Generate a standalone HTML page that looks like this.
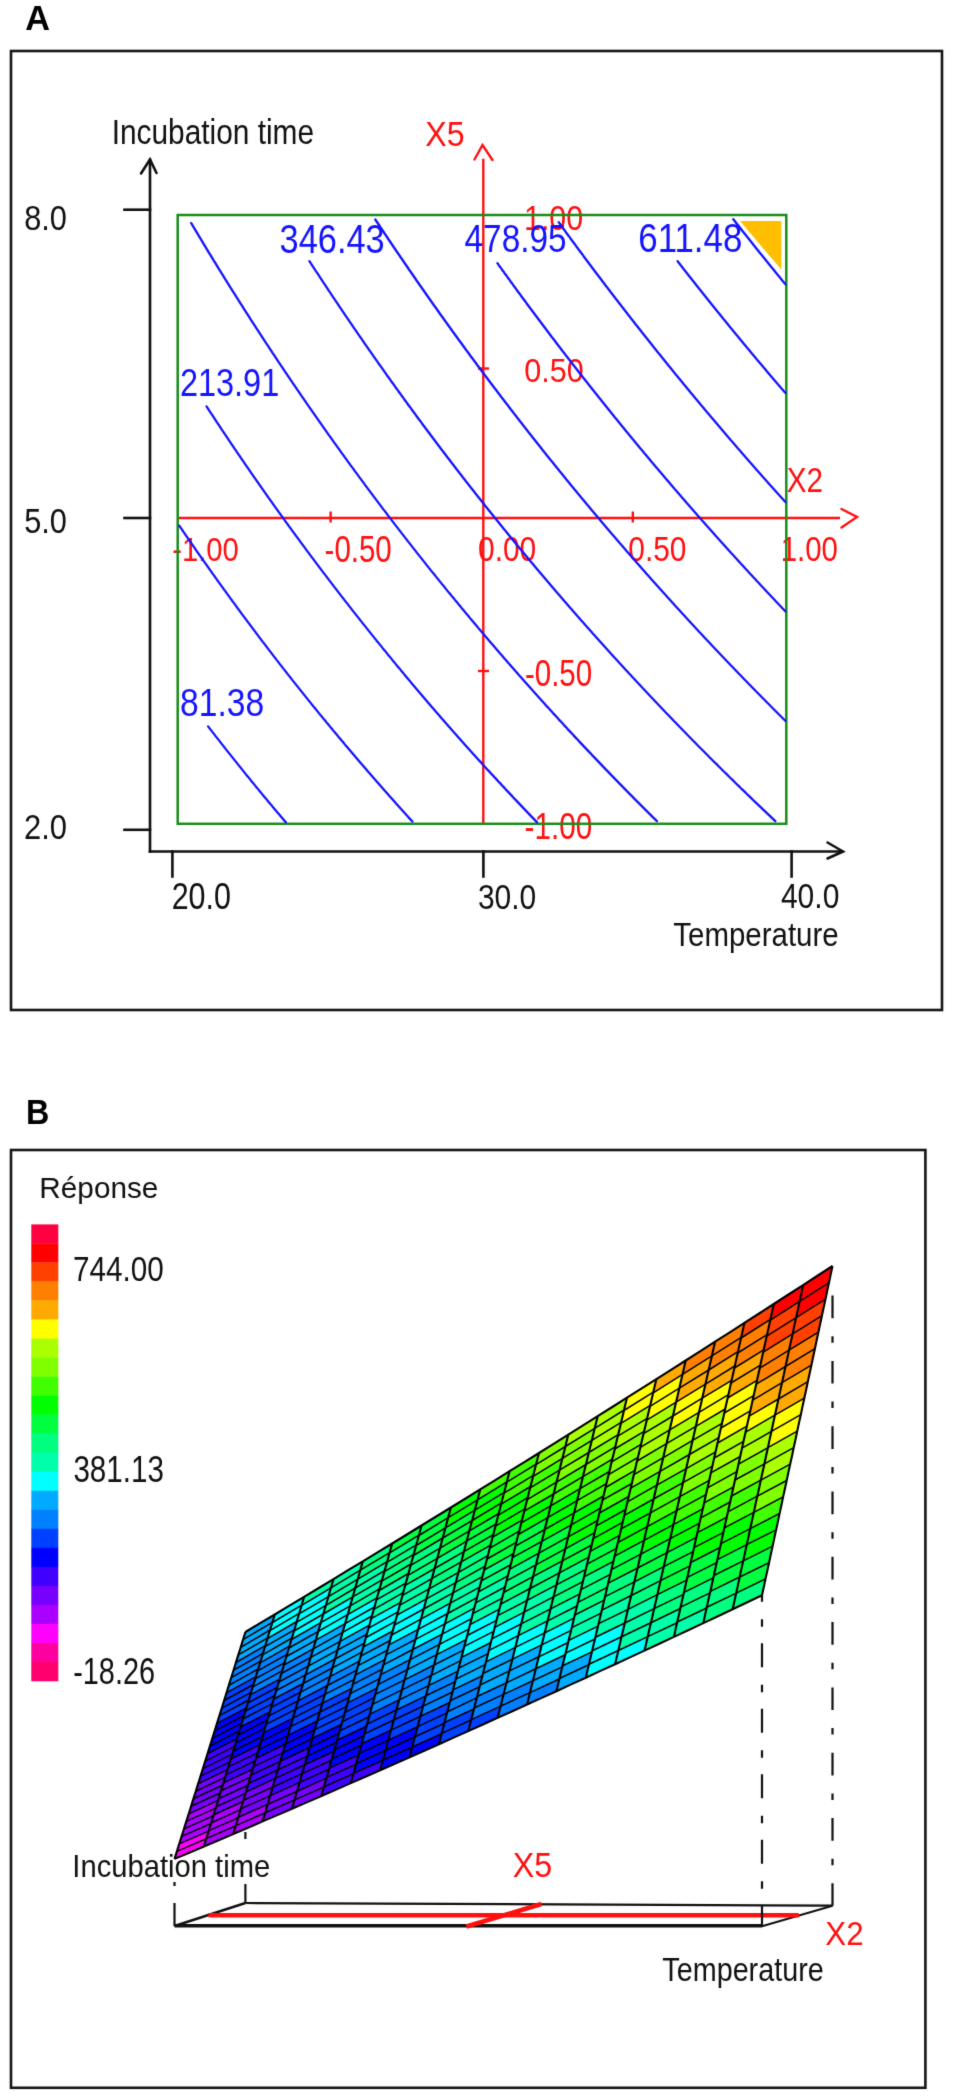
<!DOCTYPE html>
<html><head><meta charset="utf-8"><style>
html,body{margin:0;padding:0;background:#fff;}
svg{display:block;}
text{font-family:"Liberation Sans",sans-serif;}
</style></head><body>
<svg width="953" height="2099" viewBox="0 0 953 2099">
<defs><filter id="sf" x="0" y="0" width="953" height="2099" filterUnits="userSpaceOnUse" color-interpolation-filters="sRGB"><feConvolveMatrix order="3" kernelMatrix="0.01134 0.08382 0.01134 0.08382 0.61935 0.08382 0.01134 0.08382 0.01134" edgeMode="duplicate" preserveAlpha="true"/></filter></defs>
<g filter="url(#sf)">
<rect width="953" height="2099" fill="#fff"/>
<text transform="translate(25.14 29.80) scale(1.0043 1)" font-size="34.18" fill="#000" font-weight="bold">A</text>
<rect x="11" y="51" width="931" height="959" fill="none" stroke="#151515" stroke-width="2.6"/>
<g stroke="#101010" stroke-width="2.6" fill="none" stroke-linecap="square">
<line x1="150" y1="160" x2="150" y2="851.5"/>
<polyline points="141,173.5 150,159.5 156.5,173" stroke-linecap="round"/>
<line x1="124.5" y1="209.7" x2="150" y2="209.7"/>
<line x1="124.5" y1="518" x2="150" y2="518"/>
<line x1="124.5" y1="829.8" x2="150" y2="829.8"/>
<line x1="150" y1="851.5" x2="842" y2="851.5"/>
<polyline points="827.5,842.5 843,851.5 827.5,858.5" stroke-linecap="round"/>
<line x1="172.4" y1="851.5" x2="172.4" y2="876.5"/>
<line x1="483.4" y1="851.5" x2="483.4" y2="876.5"/>
<line x1="791.6" y1="851.5" x2="791.6" y2="876.5"/>
</g>
<text transform="translate(24.19 229.95) scale(0.8776 1)" font-size="35.05" fill="#101010">8.0</text>
<text transform="translate(24.27 533.24) scale(0.8620 1)" font-size="35.62" fill="#101010">5.0</text>
<text transform="translate(23.95 839.04) scale(0.8687 1)" font-size="35.62" fill="#101010">2.0</text>
<text transform="translate(171.68 909.04) scale(0.8374 1)" font-size="36.33" fill="#101010">20.0</text>
<text transform="translate(477.88 908.64) scale(0.8408 1)" font-size="35.62" fill="#101010">30.0</text>
<text transform="translate(780.92 908.35) scale(0.8601 1)" font-size="34.91" fill="#101010">40.0</text>
<text transform="translate(111.64 143.95) scale(0.8606 1)" font-size="34.69" fill="#101010">Incubation time</text>
<text transform="translate(673.34 945.97) scale(0.8817 1)" font-size="33.41" fill="#101010">Temperature</text>
<g stroke="#ff1010" stroke-width="2.4" fill="none">
<line x1="483.3" y1="158.8" x2="483.3" y2="823.5"/>
<polyline points="474.5,159.5 482.5,145 492.5,160" stroke-linecap="round"/>
<line x1="177.7" y1="518" x2="840" y2="518"/>
<polyline points="841.5,509 857,517 841.5,527.5" stroke-linecap="round"/>
<line x1="478" y1="368.5" x2="489" y2="368.5"/>
<line x1="478" y1="671" x2="489" y2="671"/>
<line x1="330.6" y1="511.5" x2="330.6" y2="522.5"/>
<line x1="632.8" y1="511.5" x2="632.8" y2="522.5"/>
</g>
<text transform="translate(425.28 146.35) scale(0.9080 1)" font-size="35.41" fill="#ff1010">X5</text>
<text transform="translate(786.63 491.70) scale(0.8373 1)" font-size="35.41" fill="#ff1010">X2</text>
<text transform="translate(524.02 229.95) scale(0.8602 1)" font-size="35.34" fill="#ff1010">1.00</text>
<text transform="translate(524.18 382.17) scale(0.9205 1)" font-size="33.22" fill="#ff1010">0.50</text>
<text transform="translate(524.97 686.24) scale(0.8178 1)" font-size="36.04" fill="#ff1010">-0.50</text>
<text transform="translate(524.57 839.14) scale(0.8229 1)" font-size="36.04" fill="#ff1010">-1.00</text>
<text transform="translate(172.18 560.56) scale(0.8586 1)" font-size="34.06" fill="#ff1010">-1.00</text>
<text transform="translate(324.57 561.53) scale(0.8021 1)" font-size="36.75" fill="#ff1010">-0.50</text>
<text transform="translate(478.00 561.14) scale(0.8404 1)" font-size="35.62" fill="#ff1010">0.00</text>
<text transform="translate(628.30 561.14) scale(0.8389 1)" font-size="35.62" fill="#ff1010">0.50</text>
<text transform="translate(780.80 561.14) scale(0.8243 1)" font-size="35.62" fill="#ff1010">1.00</text>
<rect x="177.7" y="215" width="608.6" height="608.8" fill="none" stroke="#1a8c1a" stroke-width="2.5"/>
<polygon points="740,220.9 781.3,220.9 781.3,269.6" fill="#ffbf00"/>
<g stroke="#1414ff" stroke-width="2.3" fill="none" stroke-linejoin="round" stroke-linecap="round">
<polyline points="208.1,726.4 209.6,728.4 211.2,730.4 212.7,732.4 214.3,734.4 215.8,736.4 217.4,738.4 219.0,740.4 220.5,742.4 222.1,744.4 223.7,746.4 225.2,748.4 226.8,750.4 228.4,752.4 230.0,754.4 231.6,756.4 233.2,758.4 234.8,760.4 236.4,762.4 238.0,764.4 239.6,766.4 241.2,768.4 242.8,770.4 244.4,772.4 246.0,774.4 247.7,776.4 249.3,778.4 250.9,780.4 252.6,782.4 254.2,784.4 255.8,786.4 257.5,788.4 259.1,790.4 260.8,792.4 262.4,794.4 264.1,796.4 265.8,798.4 267.4,800.4 269.1,802.4 270.8,804.4 272.4,806.4 274.1,808.4 275.8,810.4 277.5,812.4 279.2,814.4 280.9,816.4 282.6,818.4 284.3,820.4 286.0,822.4"/>
<polyline points="179.2,525.6 180.6,527.6 182.0,529.6 183.3,531.6 184.7,533.6 186.1,535.6 187.4,537.6 188.8,539.6 190.2,541.6 191.6,543.6 193.0,545.6 194.4,547.6 195.7,549.6 197.1,551.6 198.5,553.6 199.9,555.6 201.3,557.6 202.7,559.6 204.1,561.6 205.6,563.6 207.0,565.6 208.4,567.6 209.8,569.6 211.2,571.6 212.6,573.6 214.1,575.6 215.5,577.6 216.9,579.6 218.3,581.6 219.8,583.6 221.2,585.6 222.7,587.6 224.1,589.6 225.6,591.6 227.0,593.6 228.5,595.6 229.9,597.6 231.4,599.6 232.8,601.6 234.3,603.6 235.8,605.6 237.2,607.6 238.7,609.6 240.2,611.6 241.6,613.6 243.1,615.6 244.6,617.6 246.1,619.6 247.6,621.6 249.1,623.6 250.6,625.6 252.1,627.6 253.6,629.6 255.1,631.6 256.6,633.6 258.1,635.6 259.6,637.6 261.1,639.6 262.6,641.6 264.2,643.6 265.7,645.6 267.2,647.6 268.7,649.6 270.3,651.6 271.8,653.6 273.3,655.6 274.9,657.6 276.4,659.6 278.0,661.6 279.5,663.6 281.1,665.6 282.6,667.6 284.2,669.6 285.8,671.6 287.3,673.6 288.9,675.6 290.5,677.6 292.0,679.6 293.6,681.6 295.2,683.6 296.8,685.6 298.4,687.6 300.0,689.6 301.6,691.6 303.2,693.6 304.8,695.6 306.4,697.6 308.0,699.6 309.6,701.6 311.2,703.6 312.8,705.6 314.4,707.6 316.1,709.6 317.7,711.6 319.3,713.6 320.9,715.6 322.6,717.6 324.2,719.6 325.9,721.6 327.5,723.6 329.2,725.6 330.8,727.6 332.5,729.6 334.1,731.6 335.8,733.6 337.5,735.6 339.1,737.6 340.8,739.6 342.5,741.6 344.2,743.6 345.8,745.6 347.5,747.6 349.2,749.6 350.9,751.6 352.6,753.6 354.3,755.6 356.0,757.6 357.7,759.6 359.4,761.6 361.1,763.6 362.9,765.6 364.6,767.6 366.3,769.6 368.0,771.6 369.8,773.6 371.5,775.6 373.2,777.6 375.0,779.6 376.7,781.6 378.5,783.6 380.2,785.6 382.0,787.6 383.7,789.6 385.5,791.6 387.3,793.6 389.0,795.6 390.8,797.6 392.6,799.6 394.4,801.6 396.1,803.6 397.9,805.6 399.7,807.6 401.5,809.6 403.3,811.6 405.1,813.6 406.9,815.6 408.7,817.6 410.6,819.6 412.4,821.6"/>
<polyline points="206.5,406.4 207.8,408.4 209.1,410.4 210.4,412.4 211.8,414.4 213.1,416.4 214.4,418.4 215.7,420.4 217.0,422.4 218.4,424.4 219.7,426.4 221.0,428.4 222.3,430.4 223.7,432.4 225.0,434.4 226.4,436.4 227.7,438.4 229.0,440.4 230.4,442.4 231.7,444.4 233.1,446.4 234.4,448.4 235.8,450.4 237.1,452.4 238.5,454.4 239.9,456.4 241.2,458.4 242.6,460.4 244.0,462.4 245.3,464.4 246.7,466.4 248.1,468.4 249.5,470.4 250.8,472.4 252.2,474.4 253.6,476.4 255.0,478.4 256.4,480.4 257.8,482.4 259.2,484.4 260.6,486.4 262.0,488.4 263.4,490.4 264.8,492.4 266.2,494.4 267.6,496.4 269.0,498.4 270.5,500.4 271.9,502.4 273.3,504.4 274.7,506.4 276.2,508.4 277.6,510.4 279.0,512.4 280.5,514.4 281.9,516.4 283.3,518.4 284.8,520.4 286.2,522.4 287.7,524.4 289.1,526.4 290.6,528.4 292.0,530.4 293.5,532.4 295.0,534.4 296.4,536.4 297.9,538.4 299.4,540.4 300.8,542.4 302.3,544.4 303.8,546.4 305.3,548.4 306.7,550.4 308.2,552.4 309.7,554.4 311.2,556.4 312.7,558.4 314.2,560.4 315.7,562.4 317.2,564.4 318.7,566.4 320.2,568.4 321.7,570.4 323.2,572.4 324.8,574.4 326.3,576.4 327.8,578.4 329.3,580.4 330.9,582.4 332.4,584.4 333.9,586.4 335.5,588.4 337.0,590.4 338.5,592.4 340.1,594.4 341.6,596.4 343.2,598.4 344.7,600.4 346.3,602.4 347.9,604.4 349.4,606.4 351.0,608.4 352.5,610.4 354.1,612.4 355.7,614.4 357.3,616.4 358.9,618.4 360.4,620.4 362.0,622.4 363.6,624.4 365.2,626.4 366.8,628.4 368.4,630.4 370.0,632.4 371.6,634.4 373.2,636.4 374.8,638.4 376.4,640.4 378.1,642.4 379.7,644.4 381.3,646.4 382.9,648.4 384.6,650.4 386.2,652.4 387.8,654.4 389.5,656.4 391.1,658.4 392.7,660.4 394.4,662.4 396.0,664.4 397.7,666.4 399.4,668.4 401.0,670.4 402.7,672.4 404.3,674.4 406.0,676.4 407.7,678.4 409.4,680.4 411.0,682.4 412.7,684.4 414.4,686.4 416.1,688.4 417.8,690.4 419.5,692.4 421.2,694.4 422.9,696.4 424.6,698.4 426.3,700.4 428.0,702.4 429.7,704.4 431.4,706.4 433.2,708.4 434.9,710.4 436.6,712.4 438.4,714.4 440.1,716.4 441.8,718.4 443.6,720.4 445.3,722.4 447.1,724.4 448.8,726.4 450.6,728.4 452.3,730.4 454.1,732.4 455.9,734.4 457.6,736.4 459.4,738.4 461.2,740.4 463.0,742.4 464.7,744.4 466.5,746.4 468.3,748.4 470.1,750.4 471.9,752.4 473.7,754.4 475.5,756.4 477.3,758.4 479.1,760.4 481.0,762.4 482.8,764.4 484.6,766.4 486.4,768.4 488.2,770.4 490.1,772.4 491.9,774.4 493.8,776.4 495.6,778.4 497.5,780.4 499.3,782.4 501.2,784.4 503.0,786.4 504.9,788.4 506.7,790.4 508.6,792.4 510.5,794.4 512.4,796.4 514.2,798.4 516.1,800.4 518.0,802.4 519.9,804.4 521.8,806.4 523.7,808.4 525.6,810.4 527.5,812.4 529.4,814.4 531.3,816.4 533.3,818.4 535.2,820.4 537.1,822.4"/>
<polyline points="191.2,223.1 192.4,225.1 193.6,227.1 194.8,229.1 196.0,231.1 197.2,233.1 198.4,235.1 199.6,237.1 200.8,239.1 202.0,241.1 203.2,243.1 204.4,245.1 205.6,247.1 206.8,249.1 208.0,251.1 209.2,253.1 210.5,255.1 211.7,257.1 212.9,259.1 214.1,261.1 215.4,263.1 216.6,265.1 217.8,267.1 219.0,269.1 220.3,271.1 221.5,273.1 222.8,275.1 224.0,277.1 225.2,279.1 226.5,281.1 227.7,283.1 229.0,285.1 230.2,287.1 231.5,289.1 232.7,291.1 234.0,293.1 235.3,295.1 236.5,297.1 237.8,299.1 239.1,301.1 240.3,303.1 241.6,305.1 242.9,307.1 244.1,309.1 245.4,311.1 246.7,313.1 248.0,315.1 249.3,317.1 250.5,319.1 251.8,321.1 253.1,323.1 254.4,325.1 255.7,327.1 257.0,329.1 258.3,331.1 259.6,333.1 260.9,335.1 262.2,337.1 263.5,339.1 264.8,341.1 266.1,343.1 267.5,345.1 268.8,347.1 270.1,349.1 271.4,351.1 272.7,353.1 274.1,355.1 275.4,357.1 276.7,359.1 278.0,361.1 279.4,363.1 280.7,365.1 282.1,367.1 283.4,369.1 284.7,371.1 286.1,373.1 287.4,375.1 288.8,377.1 290.1,379.1 291.5,381.1 292.8,383.1 294.2,385.1 295.6,387.1 296.9,389.1 298.3,391.1 299.7,393.1 301.0,395.1 302.4,397.1 303.8,399.1 305.2,401.1 306.5,403.1 307.9,405.1 309.3,407.1 310.7,409.1 312.1,411.1 313.5,413.1 314.9,415.1 316.3,417.1 317.7,419.1 319.1,421.1 320.5,423.1 321.9,425.1 323.3,427.1 324.7,429.1 326.1,431.1 327.5,433.1 328.9,435.1 330.4,437.1 331.8,439.1 333.2,441.1 334.6,443.1 336.1,445.1 337.5,447.1 339.0,449.1 340.4,451.1 341.8,453.1 343.3,455.1 344.7,457.1 346.2,459.1 347.6,461.1 349.1,463.1 350.5,465.1 352.0,467.1 353.5,469.1 354.9,471.1 356.4,473.1 357.9,475.1 359.3,477.1 360.8,479.1 362.3,481.1 363.8,483.1 365.2,485.1 366.7,487.1 368.2,489.1 369.7,491.1 371.2,493.1 372.7,495.1 374.2,497.1 375.7,499.1 377.2,501.1 378.7,503.1 380.2,505.1 381.7,507.1 383.2,509.1 384.8,511.1 386.3,513.1 387.8,515.1 389.3,517.1 390.8,519.1 392.4,521.1 393.9,523.1 395.4,525.1 397.0,527.1 398.5,529.1 400.1,531.1 401.6,533.1 403.2,535.1 404.7,537.1 406.3,539.1 407.8,541.1 409.4,543.1 411.0,545.1 412.5,547.1 414.1,549.1 415.7,551.1 417.2,553.1 418.8,555.1 420.4,557.1 422.0,559.1 423.6,561.1 425.2,563.1 426.7,565.1 428.3,567.1 429.9,569.1 431.5,571.1 433.1,573.1 434.8,575.1 436.4,577.1 438.0,579.1 439.6,581.1 441.2,583.1 442.8,585.1 444.5,587.1 446.1,589.1 447.7,591.1 449.3,593.1 451.0,595.1 452.6,597.1 454.3,599.1 455.9,601.1 457.6,603.1 459.2,605.1 460.9,607.1 462.5,609.1 464.2,611.1 465.8,613.1 467.5,615.1 469.2,617.1 470.8,619.1 472.5,621.1 474.2,623.1 475.9,625.1 477.6,627.1 479.2,629.1 480.9,631.1 482.6,633.1 484.3,635.1 486.0,637.1 487.7,639.1 489.4,641.1 491.1,643.1 492.9,645.1 494.6,647.1 496.3,649.1 498.0,651.1 499.7,653.1 501.5,655.1 503.2,657.1 504.9,659.1 506.7,661.1 508.4,663.1 510.2,665.1 511.9,667.1 513.7,669.1 515.4,671.1 517.2,673.1 518.9,675.1 520.7,677.1 522.5,679.1 524.2,681.1 526.0,683.1 527.8,685.1 529.6,687.1 531.4,689.1 533.1,691.1 534.9,693.1 536.7,695.1 538.5,697.1 540.3,699.1 542.1,701.1 543.9,703.1 545.7,705.1 547.6,707.1 549.4,709.1 551.2,711.1 553.0,713.1 554.9,715.1 556.7,717.1 558.5,719.1 560.4,721.1 562.2,723.1 564.0,725.1 565.9,727.1 567.7,729.1 569.6,731.1 571.5,733.1 573.3,735.1 575.2,737.1 577.1,739.1 578.9,741.1 580.8,743.1 582.7,745.1 584.6,747.1 586.5,749.1 588.4,751.1 590.3,753.1 592.1,755.1 594.1,757.1 596.0,759.1 597.9,761.1 599.8,763.1 601.7,765.1 603.6,767.1 605.5,769.1 607.5,771.1 609.4,773.1 611.3,775.1 613.3,777.1 615.2,779.1 617.2,781.1 619.1,783.1 621.1,785.1 623.0,787.1 625.0,789.1 626.9,791.1 628.9,793.1 630.9,795.1 632.9,797.1 634.8,799.1 636.8,801.1 638.8,803.1 640.8,805.1 642.8,807.1 644.8,809.1 646.8,811.1 648.8,813.1 650.8,815.1 652.8,817.1 654.9,819.1 656.9,821.1"/>
<polyline points="309.4,261.2 310.7,263.2 312.0,265.2 313.3,267.2 314.6,269.2 315.9,271.2 317.3,273.2 318.6,275.2 319.9,277.2 321.2,279.2 322.5,281.2 323.8,283.2 325.2,285.2 326.5,287.2 327.8,289.2 329.1,291.2 330.5,293.2 331.8,295.2 333.1,297.2 334.5,299.2 335.8,301.2 337.2,303.2 338.5,305.2 339.8,307.2 341.2,309.2 342.5,311.2 343.9,313.2 345.2,315.2 346.6,317.2 348.0,319.2 349.3,321.2 350.7,323.2 352.1,325.2 353.4,327.2 354.8,329.2 356.2,331.2 357.5,333.2 358.9,335.2 360.3,337.2 361.7,339.2 363.1,341.2 364.4,343.2 365.8,345.2 367.2,347.2 368.6,349.2 370.0,351.2 371.4,353.2 372.8,355.2 374.2,357.2 375.6,359.2 377.0,361.2 378.4,363.2 379.9,365.2 381.3,367.2 382.7,369.2 384.1,371.2 385.5,373.2 386.9,375.2 388.4,377.2 389.8,379.2 391.2,381.2 392.7,383.2 394.1,385.2 395.5,387.2 397.0,389.2 398.4,391.2 399.9,393.2 401.3,395.2 402.8,397.2 404.2,399.2 405.7,401.2 407.1,403.2 408.6,405.2 410.1,407.2 411.5,409.2 413.0,411.2 414.5,413.2 415.9,415.2 417.4,417.2 418.9,419.2 420.4,421.2 421.8,423.2 423.3,425.2 424.8,427.2 426.3,429.2 427.8,431.2 429.3,433.2 430.8,435.2 432.3,437.2 433.8,439.2 435.3,441.2 436.8,443.2 438.3,445.2 439.8,447.2 441.3,449.2 442.9,451.2 444.4,453.2 445.9,455.2 447.4,457.2 449.0,459.2 450.5,461.2 452.0,463.2 453.6,465.2 455.1,467.2 456.6,469.2 458.2,471.2 459.7,473.2 461.3,475.2 462.8,477.2 464.4,479.2 465.9,481.2 467.5,483.2 469.1,485.2 470.6,487.2 472.2,489.2 473.8,491.2 475.3,493.2 476.9,495.2 478.5,497.2 480.1,499.2 481.7,501.2 483.3,503.2 484.8,505.2 486.4,507.2 488.0,509.2 489.6,511.2 491.2,513.2 492.8,515.2 494.4,517.2 496.1,519.2 497.7,521.2 499.3,523.2 500.9,525.2 502.5,527.2 504.1,529.2 505.8,531.2 507.4,533.2 509.0,535.2 510.7,537.2 512.3,539.2 513.9,541.2 515.6,543.2 517.2,545.2 518.9,547.2 520.5,549.2 522.2,551.2 523.9,553.2 525.5,555.2 527.2,557.2 528.8,559.2 530.5,561.2 532.2,563.2 533.9,565.2 535.5,567.2 537.2,569.2 538.9,571.2 540.6,573.2 542.3,575.2 544.0,577.2 545.7,579.2 547.4,581.2 549.1,583.2 550.8,585.2 552.5,587.2 554.2,589.2 555.9,591.2 557.6,593.2 559.4,595.2 561.1,597.2 562.8,599.2 564.5,601.2 566.3,603.2 568.0,605.2 569.7,607.2 571.5,609.2 573.2,611.2 575.0,613.2 576.7,615.2 578.5,617.2 580.2,619.2 582.0,621.2 583.8,623.2 585.5,625.2 587.3,627.2 589.1,629.2 590.9,631.2 592.6,633.2 594.4,635.2 596.2,637.2 598.0,639.2 599.8,641.2 601.6,643.2 603.4,645.2 605.2,647.2 607.0,649.2 608.8,651.2 610.6,653.2 612.4,655.2 614.2,657.2 616.1,659.2 617.9,661.2 619.7,663.2 621.6,665.2 623.4,667.2 625.2,669.2 627.1,671.2 628.9,673.2 630.8,675.2 632.6,677.2 634.5,679.2 636.3,681.2 638.2,683.2 640.1,685.2 641.9,687.2 643.8,689.2 645.7,691.2 647.6,693.2 649.4,695.2 651.3,697.2 653.2,699.2 655.1,701.2 657.0,703.2 658.9,705.2 660.8,707.2 662.7,709.2 664.6,711.2 666.5,713.2 668.5,715.2 670.4,717.2 672.3,719.2 674.2,721.2 676.2,723.2 678.1,725.2 680.0,727.2 682.0,729.2 683.9,731.2 685.9,733.2 687.8,735.2 689.8,737.2 691.7,739.2 693.7,741.2 695.7,743.2 697.6,745.2 699.6,747.2 701.6,749.2 703.6,751.2 705.6,753.2 707.6,755.2 709.5,757.2 711.5,759.2 713.5,761.2 715.5,763.2 717.6,765.2 719.6,767.2 721.6,769.2 723.6,771.2 725.6,773.2 727.7,775.2 729.7,777.2 731.7,779.2 733.8,781.2 735.8,783.2 737.8,785.2 739.9,787.2 741.9,789.2 744.0,791.2 746.1,793.2 748.1,795.2 750.2,797.2 752.3,799.2 754.3,801.2 756.4,803.2 758.5,805.2 760.6,807.2 762.7,809.2 764.8,811.2 766.9,813.2 769.0,815.2 771.1,817.2 773.2,819.2 775.3,821.2"/>
<polyline points="375.3,219.5 376.6,221.5 378.0,223.5 379.3,225.5 380.6,227.5 382.0,229.5 383.3,231.5 384.6,233.5 386.0,235.5 387.3,237.5 388.6,239.5 390.0,241.5 391.3,243.5 392.7,245.5 394.0,247.5 395.4,249.5 396.7,251.5 398.1,253.5 399.5,255.5 400.8,257.5 402.2,259.5 403.6,261.5 404.9,263.5 406.3,265.5 407.7,267.5 409.0,269.5 410.4,271.5 411.8,273.5 413.2,275.5 414.6,277.5 415.9,279.5 417.3,281.5 418.7,283.5 420.1,285.5 421.5,287.5 422.9,289.5 424.3,291.5 425.7,293.5 427.1,295.5 428.5,297.5 429.9,299.5 431.3,301.5 432.7,303.5 434.1,305.5 435.6,307.5 437.0,309.5 438.4,311.5 439.8,313.5 441.2,315.5 442.7,317.5 444.1,319.5 445.5,321.5 447.0,323.5 448.4,325.5 449.9,327.5 451.3,329.5 452.7,331.5 454.2,333.5 455.6,335.5 457.1,337.5 458.5,339.5 460.0,341.5 461.5,343.5 462.9,345.5 464.4,347.5 465.8,349.5 467.3,351.5 468.8,353.5 470.2,355.5 471.7,357.5 473.2,359.5 474.7,361.5 476.2,363.5 477.6,365.5 479.1,367.5 480.6,369.5 482.1,371.5 483.6,373.5 485.1,375.5 486.6,377.5 488.1,379.5 489.6,381.5 491.1,383.5 492.6,385.5 494.1,387.5 495.7,389.5 497.2,391.5 498.7,393.5 500.2,395.5 501.7,397.5 503.3,399.5 504.8,401.5 506.3,403.5 507.9,405.5 509.4,407.5 510.9,409.5 512.5,411.5 514.0,413.5 515.6,415.5 517.1,417.5 518.7,419.5 520.2,421.5 521.8,423.5 523.3,425.5 524.9,427.5 526.5,429.5 528.0,431.5 529.6,433.5 531.2,435.5 532.7,437.5 534.3,439.5 535.9,441.5 537.5,443.5 539.1,445.5 540.7,447.5 542.2,449.5 543.8,451.5 545.4,453.5 547.0,455.5 548.6,457.5 550.2,459.5 551.9,461.5 553.5,463.5 555.1,465.5 556.7,467.5 558.3,469.5 559.9,471.5 561.6,473.5 563.2,475.5 564.8,477.5 566.4,479.5 568.1,481.5 569.7,483.5 571.3,485.5 573.0,487.5 574.6,489.5 576.3,491.5 577.9,493.5 579.6,495.5 581.2,497.5 582.9,499.5 584.6,501.5 586.2,503.5 587.9,505.5 589.6,507.5 591.2,509.5 592.9,511.5 594.6,513.5 596.3,515.5 598.0,517.5 599.7,519.5 601.3,521.5 603.0,523.5 604.7,525.5 606.4,527.5 608.1,529.5 609.8,531.5 611.5,533.5 613.3,535.5 615.0,537.5 616.7,539.5 618.4,541.5 620.1,543.5 621.9,545.5 623.6,547.5 625.3,549.5 627.0,551.5 628.8,553.5 630.5,555.5 632.3,557.5 634.0,559.5 635.8,561.5 637.5,563.5 639.3,565.5 641.0,567.5 642.8,569.5 644.6,571.5 646.3,573.5 648.1,575.5 649.9,577.5 651.6,579.5 653.4,581.5 655.2,583.5 657.0,585.5 658.8,587.5 660.6,589.5 662.4,591.5 664.2,593.5 666.0,595.5 667.8,597.5 669.6,599.5 671.4,601.5 673.2,603.5 675.0,605.5 676.8,607.5 678.7,609.5 680.5,611.5 682.3,613.5 684.2,615.5 686.0,617.5 687.8,619.5 689.7,621.5 691.5,623.5 693.4,625.5 695.2,627.5 697.1,629.5 698.9,631.5 700.8,633.5 702.7,635.5 704.5,637.5 706.4,639.5 708.3,641.5 710.2,643.5 712.0,645.5 713.9,647.5 715.8,649.5 717.7,651.5 719.6,653.5 721.5,655.5 723.4,657.5 725.3,659.5 727.2,661.5 729.1,663.5 731.0,665.5 733.0,667.5 734.9,669.5 736.8,671.5 738.7,673.5 740.7,675.5 742.6,677.5 744.5,679.5 746.5,681.5 748.4,683.5 750.4,685.5 752.3,687.5 754.3,689.5 756.2,691.5 758.2,693.5 760.2,695.5 762.1,697.5 764.1,699.5 766.1,701.5 768.1,703.5 770.1,705.5 772.0,707.5 774.0,709.5 776.0,711.5 778.0,713.5 780.0,715.5 782.0,717.5 784.0,719.5 785.5,720.9"/>
<polyline points="497.4,263.2 498.8,265.2 500.3,267.2 501.7,269.2 503.2,271.2 504.6,273.2 506.1,275.2 507.5,277.2 509.0,279.2 510.4,281.2 511.9,283.2 513.3,285.2 514.8,287.2 516.2,289.2 517.7,291.2 519.2,293.2 520.6,295.2 522.1,297.2 523.6,299.2 525.1,301.2 526.5,303.2 528.0,305.2 529.5,307.2 531.0,309.2 532.5,311.2 534.0,313.2 535.5,315.2 537.0,317.2 538.5,319.2 540.0,321.2 541.5,323.2 543.0,325.2 544.5,327.2 546.0,329.2 547.5,331.2 549.0,333.2 550.5,335.2 552.0,337.2 553.6,339.2 555.1,341.2 556.6,343.2 558.1,345.2 559.7,347.2 561.2,349.2 562.7,351.2 564.3,353.2 565.8,355.2 567.4,357.2 568.9,359.2 570.5,361.2 572.0,363.2 573.6,365.2 575.1,367.2 576.7,369.2 578.2,371.2 579.8,373.2 581.4,375.2 582.9,377.2 584.5,379.2 586.1,381.2 587.7,383.2 589.2,385.2 590.8,387.2 592.4,389.2 594.0,391.2 595.6,393.2 597.2,395.2 598.8,397.2 600.4,399.2 602.0,401.2 603.6,403.2 605.2,405.2 606.8,407.2 608.4,409.2 610.0,411.2 611.6,413.2 613.2,415.2 614.8,417.2 616.5,419.2 618.1,421.2 619.7,423.2 621.3,425.2 623.0,427.2 624.6,429.2 626.2,431.2 627.9,433.2 629.5,435.2 631.2,437.2 632.8,439.2 634.5,441.2 636.1,443.2 637.8,445.2 639.4,447.2 641.1,449.2 642.8,451.2 644.4,453.2 646.1,455.2 647.8,457.2 649.5,459.2 651.1,461.2 652.8,463.2 654.5,465.2 656.2,467.2 657.9,469.2 659.6,471.2 661.3,473.2 663.0,475.2 664.7,477.2 666.4,479.2 668.1,481.2 669.8,483.2 671.5,485.2 673.2,487.2 674.9,489.2 676.7,491.2 678.4,493.2 680.1,495.2 681.8,497.2 683.6,499.2 685.3,501.2 687.0,503.2 688.8,505.2 690.5,507.2 692.3,509.2 694.0,511.2 695.8,513.2 697.5,515.2 699.3,517.2 701.0,519.2 702.8,521.2 704.6,523.2 706.3,525.2 708.1,527.2 709.9,529.2 711.7,531.2 713.5,533.2 715.2,535.2 717.0,537.2 718.8,539.2 720.6,541.2 722.4,543.2 724.2,545.2 726.0,547.2 727.8,549.2 729.6,551.2 731.4,553.2 733.3,555.2 735.1,557.2 736.9,559.2 738.7,561.2 740.5,563.2 742.4,565.2 744.2,567.2 746.0,569.2 747.9,571.2 749.7,573.2 751.6,575.2 753.4,577.2 755.3,579.2 757.1,581.2 759.0,583.2 760.8,585.2 762.7,587.2 764.6,589.2 766.4,591.2 768.3,593.2 770.2,595.2 772.1,597.2 774.0,599.2 775.8,601.2 777.7,603.2 779.6,605.2 781.5,607.2 783.4,609.2 785.3,611.2 785.5,611.4"/>
<polyline points="558.7,222.2 560.1,224.2 561.6,226.2 563.0,228.2 564.5,230.2 565.9,232.2 567.4,234.2 568.9,236.2 570.3,238.2 571.8,240.2 573.3,242.2 574.8,244.2 576.2,246.2 577.7,248.2 579.2,250.2 580.7,252.2 582.2,254.2 583.6,256.2 585.1,258.2 586.6,260.2 588.1,262.2 589.6,264.2 591.1,266.2 592.6,268.2 594.1,270.2 595.6,272.2 597.1,274.2 598.7,276.2 600.2,278.2 601.7,280.2 603.2,282.2 604.7,284.2 606.2,286.2 607.8,288.2 609.3,290.2 610.8,292.2 612.4,294.2 613.9,296.2 615.4,298.2 617.0,300.2 618.5,302.2 620.1,304.2 621.6,306.2 623.2,308.2 624.7,310.2 626.3,312.2 627.8,314.2 629.4,316.2 630.9,318.2 632.5,320.2 634.1,322.2 635.6,324.2 637.2,326.2 638.8,328.2 640.4,330.2 641.9,332.2 643.5,334.2 645.1,336.2 646.7,338.2 648.3,340.2 649.9,342.2 651.5,344.2 653.0,346.2 654.6,348.2 656.2,350.2 657.8,352.2 659.5,354.2 661.1,356.2 662.7,358.2 664.3,360.2 665.9,362.2 667.5,364.2 669.1,366.2 670.8,368.2 672.4,370.2 674.0,372.2 675.6,374.2 677.3,376.2 678.9,378.2 680.6,380.2 682.2,382.2 683.8,384.2 685.5,386.2 687.1,388.2 688.8,390.2 690.4,392.2 692.1,394.2 693.8,396.2 695.4,398.2 697.1,400.2 698.8,402.2 700.4,404.2 702.1,406.2 703.8,408.2 705.4,410.2 707.1,412.2 708.8,414.2 710.5,416.2 712.2,418.2 713.9,420.2 715.6,422.2 717.3,424.2 719.0,426.2 720.7,428.2 722.4,430.2 724.1,432.2 725.8,434.2 727.5,436.2 729.2,438.2 730.9,440.2 732.7,442.2 734.4,444.2 736.1,446.2 737.8,448.2 739.6,450.2 741.3,452.2 743.0,454.2 744.8,456.2 746.5,458.2 748.3,460.2 750.0,462.2 751.8,464.2 753.5,466.2 755.3,468.2 757.0,470.2 758.8,472.2 760.6,474.2 762.3,476.2 764.1,478.2 765.9,480.2 767.7,482.2 769.4,484.2 771.2,486.2 773.0,488.2 774.8,490.2 776.6,492.2 778.4,494.2 780.2,496.2 782.0,498.2 783.8,500.2 785.5,502.1"/>
<polyline points="677.6,261.2 679.2,263.2 680.7,265.2 682.3,267.2 683.8,269.2 685.4,271.2 687.0,273.2 688.5,275.2 690.1,277.2 691.7,279.2 693.3,281.2 694.9,283.2 696.4,285.2 698.0,287.2 699.6,289.2 701.2,291.2 702.8,293.2 704.4,295.2 706.0,297.2 707.6,299.2 709.2,301.2 710.8,303.2 712.4,305.2 714.0,307.2 715.6,309.2 717.2,311.2 718.9,313.2 720.5,315.2 722.1,317.2 723.7,319.2 725.4,321.2 727.0,323.2 728.6,325.2 730.2,327.2 731.9,329.2 733.5,331.2 735.2,333.2 736.8,335.2 738.5,337.2 740.1,339.2 741.8,341.2 743.4,343.2 745.1,345.2 746.7,347.2 748.4,349.2 750.1,351.2 751.7,353.2 753.4,355.2 755.1,357.2 756.7,359.2 758.4,361.2 760.1,363.2 761.8,365.2 763.5,367.2 765.2,369.2 766.8,371.2 768.5,373.2 770.2,375.2 771.9,377.2 773.6,379.2 775.3,381.2 777.0,383.2 778.8,385.2 780.5,387.2 782.2,389.2 783.9,391.2 785.5,393.1"/>
<polyline points="733.3,219.2 734.9,221.2 736.4,223.2 738.0,225.2 739.6,227.2 741.2,229.2 742.7,231.2 744.3,233.2 745.9,235.2 747.5,237.2 749.1,239.2 750.7,241.2 752.3,243.2 753.8,245.2 755.4,247.2 757.0,249.2 758.6,251.2 760.2,253.2 761.9,255.2 763.5,257.2 765.1,259.2 766.7,261.2 768.3,263.2 769.9,265.2 771.5,267.2 773.2,269.2 774.8,271.2 776.4,273.2 778.0,275.2 779.7,277.2 781.3,279.2 782.9,281.2 784.6,283.2 785.5,284.3"/>
</g>
<text transform="translate(279.61 252.59) scale(0.8470 1)" font-size="40.57" fill="#1414ff">346.43</text>
<text transform="translate(464.55 251.91) scale(0.8458 1)" font-size="39.43" fill="#1414ff">478.95</text>
<text transform="translate(638.26 252.40) scale(0.8659 1)" font-size="40.28" fill="#1414ff">611.48</text>
<text transform="translate(179.88 396.41) scale(0.8241 1)" font-size="39.43" fill="#1414ff">213.91</text>
<text transform="translate(180.07 716.41) scale(0.8517 1)" font-size="39.43" fill="#1414ff">81.38</text>
<text transform="translate(26.02 1124.00) scale(0.9329 1)" font-size="34.62" fill="#000" font-weight="bold">B</text>
<rect x="11" y="1150" width="914.4" height="937.8" fill="none" stroke="#151515" stroke-width="2.6"/>
<text transform="translate(39.35 1198.40) scale(0.9791 1)" font-size="30.37" fill="#101010">Réponse</text>
<rect x="31.3" y="1224.40" width="27" height="19.32" fill="#ff0040"/>
<rect x="31.3" y="1243.43" width="27" height="19.32" fill="#ff0000"/>
<rect x="31.3" y="1262.45" width="27" height="19.32" fill="#ff4000"/>
<rect x="31.3" y="1281.48" width="27" height="19.32" fill="#ff8000"/>
<rect x="31.3" y="1300.50" width="27" height="19.32" fill="#ffaa00"/>
<rect x="31.3" y="1319.53" width="27" height="19.32" fill="#ffff00"/>
<rect x="31.3" y="1338.55" width="27" height="19.32" fill="#aaff00"/>
<rect x="31.3" y="1357.58" width="27" height="19.32" fill="#80ff00"/>
<rect x="31.3" y="1376.60" width="27" height="19.32" fill="#40ff00"/>
<rect x="31.3" y="1395.62" width="27" height="19.32" fill="#00ff00"/>
<rect x="31.3" y="1414.65" width="27" height="19.32" fill="#00ff40"/>
<rect x="31.3" y="1433.67" width="27" height="19.32" fill="#00ff80"/>
<rect x="31.3" y="1452.70" width="27" height="19.32" fill="#00ffaa"/>
<rect x="31.3" y="1471.72" width="27" height="19.32" fill="#00ffff"/>
<rect x="31.3" y="1490.75" width="27" height="19.32" fill="#00aaff"/>
<rect x="31.3" y="1509.78" width="27" height="19.32" fill="#0080ff"/>
<rect x="31.3" y="1528.80" width="27" height="19.32" fill="#0040ff"/>
<rect x="31.3" y="1547.83" width="27" height="19.32" fill="#0000ff"/>
<rect x="31.3" y="1566.85" width="27" height="19.32" fill="#4000ff"/>
<rect x="31.3" y="1585.88" width="27" height="19.32" fill="#7800ff"/>
<rect x="31.3" y="1604.90" width="27" height="19.32" fill="#aa00ff"/>
<rect x="31.3" y="1623.92" width="27" height="19.32" fill="#ff00ff"/>
<rect x="31.3" y="1642.95" width="27" height="19.32" fill="#ff00a0"/>
<rect x="31.3" y="1661.97" width="27" height="19.32" fill="#ff006e"/>
<text transform="translate(72.94 1281.15) scale(0.8573 1)" font-size="34.63" fill="#101010">744.00</text>
<text transform="translate(73.39 1482.44) scale(0.8114 1)" font-size="36.47" fill="#101010">381.13</text>
<text transform="translate(73.20 1684.33) scale(0.7706 1)" font-size="37.46" fill="#101010">-18.26</text>
<g fill="none" stroke="#101010">
<line x1="245.4" y1="1903.0" x2="832.5" y2="1905.7" stroke-width="2.2"/>
<line x1="174.5" y1="1925.75" x2="762.0" y2="1925.75" stroke-width="3.5"/>
<line x1="174.5" y1="1926.0" x2="245.4" y2="1903.0" stroke-width="2.4"/>
<line x1="762.0" y1="1926.3" x2="832.5" y2="1905.7" stroke-width="2"/>
</g>
<g stroke="#ff1010" fill="none">
<line x1="208.5" y1="1915.3" x2="798.8" y2="1915.3" stroke-width="4.4"/>
<line x1="466.4" y1="1926.5" x2="541.4" y2="1904" stroke-width="4.5"/>
</g>
<g stroke="#101010" stroke-width="2.2" fill="none">
<line x1="174.5" y1="1903" x2="174.5" y2="1926"/>
<line x1="174.5" y1="1882" x2="174.5" y2="1886"/>
<line x1="245.4" y1="1884" x2="245.4" y2="1903"/>
<line x1="245.4" y1="1832" x2="245.4" y2="1839"/>
<line x1="832.5" y1="1295.6" x2="832.5" y2="1905.7" stroke-dasharray="22.7 18 6.5 18.1"/>
<line x1="762" y1="1595" x2="762" y2="1927" stroke-dasharray="24 17.5 7.5 16.5" stroke-dashoffset="17.2"/>
</g>
<text transform="translate(512.77 1877.15) scale(0.9254 1)" font-size="34.84" fill="#ff1010">X5</text>
<text transform="translate(825.30 1944.60) scale(0.9291 1)" font-size="33.69" fill="#ff1010">X2</text>
<text transform="translate(662.35 1981.20) scale(0.8904 1)" font-size="32.29" fill="#101010">Temperature</text>
<text transform="translate(72.30 1876.59) scale(0.9325 1)" font-size="31.29" fill="#101010">Incubation time</text>
<g stroke="none">
<polygon points="174.5,1858.9 203.9,1846.5 206.2,1838.8 176.9,1851.4" fill="#ff00ff" stroke="#ff00ff" stroke-width="0.6"/>
<polygon points="176.9,1851.4 206.2,1838.8 208.6,1831.1 179.2,1843.9" fill="#ff00ff" stroke="#ff00ff" stroke-width="0.6"/>
<polygon points="179.2,1843.9 208.6,1831.1 211.0,1823.5 181.6,1836.4" fill="#aa00ff" stroke="#aa00ff" stroke-width="0.6"/>
<polygon points="181.6,1836.4 211.0,1823.5 213.3,1815.8 184.0,1828.9" fill="#aa00ff" stroke="#aa00ff" stroke-width="0.6"/>
<polygon points="184.0,1828.9 213.3,1815.8 215.7,1808.1 186.3,1821.4" fill="#aa00ff" stroke="#aa00ff" stroke-width="0.6"/>
<polygon points="186.3,1821.4 215.7,1808.1 218.1,1800.4 188.7,1813.9" fill="#aa00ff" stroke="#aa00ff" stroke-width="0.6"/>
<polygon points="188.7,1813.9 218.1,1800.4 220.4,1792.7 191.0,1806.3" fill="#7800ff" stroke="#7800ff" stroke-width="0.6"/>
<polygon points="191.0,1806.3 220.4,1792.7 222.8,1785.0 193.4,1798.8" fill="#7800ff" stroke="#7800ff" stroke-width="0.6"/>
<polygon points="193.4,1798.8 222.8,1785.0 225.1,1777.3 195.8,1791.3" fill="#7800ff" stroke="#7800ff" stroke-width="0.6"/>
<polygon points="195.8,1791.3 225.1,1777.3 227.5,1769.6 198.1,1783.7" fill="#7800ff" stroke="#7800ff" stroke-width="0.6"/>
<polygon points="198.1,1783.7 227.5,1769.6 229.9,1761.9 200.5,1776.2" fill="#4000ff" stroke="#4000ff" stroke-width="0.6"/>
<polygon points="200.5,1776.2 229.9,1761.9 232.2,1754.2 202.9,1768.6" fill="#4000ff" stroke="#4000ff" stroke-width="0.6"/>
<polygon points="202.9,1768.6 232.2,1754.2 234.6,1746.4 205.2,1761.1" fill="#4000ff" stroke="#4000ff" stroke-width="0.6"/>
<polygon points="205.2,1761.1 234.6,1746.4 237.0,1738.7 207.6,1753.5" fill="#4000ff" stroke="#4000ff" stroke-width="0.6"/>
<polygon points="207.6,1753.5 237.0,1738.7 239.3,1731.0 209.9,1746.0" fill="#0000ff" stroke="#0000ff" stroke-width="0.6"/>
<polygon points="209.9,1746.0 239.3,1731.0 241.7,1723.2 212.3,1738.4" fill="#0000ff" stroke="#0000ff" stroke-width="0.6"/>
<polygon points="212.3,1738.4 241.7,1723.2 244.0,1715.5 214.7,1730.8" fill="#0000ff" stroke="#0000ff" stroke-width="0.6"/>
<polygon points="214.7,1730.8 244.0,1715.5 246.4,1707.8 217.0,1723.3" fill="#0000ff" stroke="#0000ff" stroke-width="0.6"/>
<polygon points="217.0,1723.3 246.4,1707.8 248.8,1700.0 219.4,1715.7" fill="#0040ff" stroke="#0040ff" stroke-width="0.6"/>
<polygon points="219.4,1715.7 248.8,1700.0 251.1,1692.3 221.8,1708.1" fill="#0040ff" stroke="#0040ff" stroke-width="0.6"/>
<polygon points="221.8,1708.1 251.1,1692.3 253.5,1684.5 224.1,1700.5" fill="#0040ff" stroke="#0040ff" stroke-width="0.6"/>
<polygon points="224.1,1700.5 253.5,1684.5 255.9,1676.7 226.5,1692.9" fill="#0040ff" stroke="#0040ff" stroke-width="0.6"/>
<polygon points="226.5,1692.9 255.9,1676.7 258.2,1669.0 228.9,1685.3" fill="#0080ff" stroke="#0080ff" stroke-width="0.6"/>
<polygon points="228.9,1685.3 258.2,1669.0 260.6,1661.2 231.2,1677.7" fill="#0080ff" stroke="#0080ff" stroke-width="0.6"/>
<polygon points="231.2,1677.7 260.6,1661.2 262.9,1653.4 233.6,1670.1" fill="#0080ff" stroke="#0080ff" stroke-width="0.6"/>
<polygon points="233.6,1670.1 262.9,1653.4 265.3,1645.6 235.9,1662.5" fill="#0080ff" stroke="#0080ff" stroke-width="0.6"/>
<polygon points="235.9,1662.5 265.3,1645.6 267.7,1637.8 238.3,1654.9" fill="#00aaff" stroke="#00aaff" stroke-width="0.6"/>
<polygon points="238.3,1654.9 267.7,1637.8 270.0,1630.0 240.7,1647.3" fill="#00aaff" stroke="#00aaff" stroke-width="0.6"/>
<polygon points="240.7,1647.3 270.0,1630.0 272.4,1622.3 243.0,1639.6" fill="#00aaff" stroke="#00aaff" stroke-width="0.6"/>
<polygon points="243.0,1639.6 272.4,1622.3 274.8,1614.5 245.4,1632.0" fill="#00aaff" stroke="#00aaff" stroke-width="0.6"/>
<polygon points="203.9,1846.5 233.2,1834.0 235.7,1825.9 206.3,1838.5" fill="#aa00ff" stroke="#aa00ff" stroke-width="0.6"/>
<polygon points="206.3,1838.5 235.7,1825.9 238.1,1817.7 208.8,1830.6" fill="#aa00ff" stroke="#aa00ff" stroke-width="0.6"/>
<polygon points="208.8,1830.6 238.1,1817.7 240.6,1809.6 211.2,1822.7" fill="#aa00ff" stroke="#aa00ff" stroke-width="0.6"/>
<polygon points="211.2,1822.7 240.6,1809.6 243.0,1801.5 213.7,1814.7" fill="#aa00ff" stroke="#aa00ff" stroke-width="0.6"/>
<polygon points="213.7,1814.7 243.0,1801.5 245.5,1793.4 216.1,1806.8" fill="#7800ff" stroke="#7800ff" stroke-width="0.6"/>
<polygon points="216.1,1806.8 245.5,1793.4 247.9,1785.2 218.5,1798.8" fill="#7800ff" stroke="#7800ff" stroke-width="0.6"/>
<polygon points="218.5,1798.8 247.9,1785.2 250.4,1777.1 221.0,1790.8" fill="#7800ff" stroke="#7800ff" stroke-width="0.6"/>
<polygon points="221.0,1790.8 250.4,1777.1 252.8,1769.0 223.4,1782.9" fill="#7800ff" stroke="#7800ff" stroke-width="0.6"/>
<polygon points="223.4,1782.9 252.8,1769.0 255.2,1760.8 225.9,1774.9" fill="#4000ff" stroke="#4000ff" stroke-width="0.6"/>
<polygon points="225.9,1774.9 255.2,1760.8 257.7,1752.7 228.3,1766.9" fill="#4000ff" stroke="#4000ff" stroke-width="0.6"/>
<polygon points="228.3,1766.9 257.7,1752.7 260.1,1744.5 230.8,1759.0" fill="#4000ff" stroke="#4000ff" stroke-width="0.6"/>
<polygon points="230.8,1759.0 260.1,1744.5 262.6,1736.3 233.2,1751.0" fill="#0000ff" stroke="#0000ff" stroke-width="0.6"/>
<polygon points="233.2,1751.0 262.6,1736.3 265.0,1728.2 235.6,1743.0" fill="#0000ff" stroke="#0000ff" stroke-width="0.6"/>
<polygon points="235.6,1743.0 265.0,1728.2 267.5,1720.0 238.1,1735.0" fill="#0000ff" stroke="#0000ff" stroke-width="0.6"/>
<polygon points="238.1,1735.0 267.5,1720.0 269.9,1711.8 240.5,1727.0" fill="#0000ff" stroke="#0000ff" stroke-width="0.6"/>
<polygon points="240.5,1727.0 269.9,1711.8 272.3,1703.6 243.0,1719.0" fill="#0040ff" stroke="#0040ff" stroke-width="0.6"/>
<polygon points="243.0,1719.0 272.3,1703.6 274.8,1695.5 245.4,1711.0" fill="#0040ff" stroke="#0040ff" stroke-width="0.6"/>
<polygon points="245.4,1711.0 274.8,1695.5 277.2,1687.3 247.9,1702.9" fill="#0040ff" stroke="#0040ff" stroke-width="0.6"/>
<polygon points="247.9,1702.9 277.2,1687.3 279.7,1679.1 250.3,1694.9" fill="#0040ff" stroke="#0040ff" stroke-width="0.6"/>
<polygon points="250.3,1694.9 279.7,1679.1 282.1,1670.9 252.8,1686.9" fill="#0080ff" stroke="#0080ff" stroke-width="0.6"/>
<polygon points="252.8,1686.9 282.1,1670.9 284.6,1662.7 255.2,1678.9" fill="#0080ff" stroke="#0080ff" stroke-width="0.6"/>
<polygon points="255.2,1678.9 284.6,1662.7 287.0,1654.4 257.6,1670.8" fill="#0080ff" stroke="#0080ff" stroke-width="0.6"/>
<polygon points="257.6,1670.8 287.0,1654.4 289.4,1646.2 260.1,1662.8" fill="#0080ff" stroke="#0080ff" stroke-width="0.6"/>
<polygon points="260.1,1662.8 289.4,1646.2 291.9,1638.0 262.5,1654.8" fill="#00aaff" stroke="#00aaff" stroke-width="0.6"/>
<polygon points="262.5,1654.8 291.9,1638.0 294.3,1629.8 265.0,1646.7" fill="#00aaff" stroke="#00aaff" stroke-width="0.6"/>
<polygon points="265.0,1646.7 294.3,1629.8 296.8,1621.5 267.4,1638.6" fill="#00aaff" stroke="#00aaff" stroke-width="0.6"/>
<polygon points="267.4,1638.6 296.8,1621.5 299.2,1613.3 269.9,1630.6" fill="#00ffff" stroke="#00ffff" stroke-width="0.6"/>
<polygon points="269.9,1630.6 299.2,1613.3 301.7,1605.1 272.3,1622.5" fill="#00ffff" stroke="#00ffff" stroke-width="0.6"/>
<polygon points="272.3,1622.5 301.7,1605.1 304.1,1596.8 274.8,1614.5" fill="#00ffff" stroke="#00ffff" stroke-width="0.6"/>
<polygon points="233.2,1834.0 262.6,1821.4 265.2,1812.8 235.8,1825.6" fill="#aa00ff" stroke="#aa00ff" stroke-width="0.6"/>
<polygon points="235.8,1825.6 265.2,1812.8 267.7,1804.2 238.3,1817.2" fill="#aa00ff" stroke="#aa00ff" stroke-width="0.6"/>
<polygon points="238.3,1817.2 267.7,1804.2 270.2,1795.6 240.8,1808.8" fill="#7800ff" stroke="#7800ff" stroke-width="0.6"/>
<polygon points="240.8,1808.8 270.2,1795.6 272.7,1787.0 243.4,1800.3" fill="#7800ff" stroke="#7800ff" stroke-width="0.6"/>
<polygon points="243.4,1800.3 272.7,1787.0 275.3,1778.4 245.9,1791.9" fill="#7800ff" stroke="#7800ff" stroke-width="0.6"/>
<polygon points="245.9,1791.9 275.3,1778.4 277.8,1769.8 248.4,1783.5" fill="#4000ff" stroke="#4000ff" stroke-width="0.6"/>
<polygon points="248.4,1783.5 277.8,1769.8 280.3,1761.2 251.0,1775.1" fill="#4000ff" stroke="#4000ff" stroke-width="0.6"/>
<polygon points="251.0,1775.1 280.3,1761.2 282.9,1752.6 253.5,1766.6" fill="#4000ff" stroke="#4000ff" stroke-width="0.6"/>
<polygon points="253.5,1766.6 282.9,1752.6 285.4,1744.0 256.0,1758.2" fill="#4000ff" stroke="#4000ff" stroke-width="0.6"/>
<polygon points="256.0,1758.2 285.4,1744.0 287.9,1735.3 258.6,1749.7" fill="#0000ff" stroke="#0000ff" stroke-width="0.6"/>
<polygon points="258.6,1749.7 287.9,1735.3 290.5,1726.7 261.1,1741.3" fill="#0000ff" stroke="#0000ff" stroke-width="0.6"/>
<polygon points="261.1,1741.3 290.5,1726.7 293.0,1718.1 263.6,1732.8" fill="#0000ff" stroke="#0000ff" stroke-width="0.6"/>
<polygon points="263.6,1732.8 293.0,1718.1 295.5,1709.4 266.1,1724.4" fill="#0040ff" stroke="#0040ff" stroke-width="0.6"/>
<polygon points="266.1,1724.4 295.5,1709.4 298.0,1700.8 268.7,1715.9" fill="#0040ff" stroke="#0040ff" stroke-width="0.6"/>
<polygon points="268.7,1715.9 298.0,1700.8 300.6,1692.1 271.2,1707.4" fill="#0040ff" stroke="#0040ff" stroke-width="0.6"/>
<polygon points="271.2,1707.4 300.6,1692.1 303.1,1683.5 273.7,1699.0" fill="#0040ff" stroke="#0040ff" stroke-width="0.6"/>
<polygon points="273.7,1699.0 303.1,1683.5 305.6,1674.8 276.3,1690.5" fill="#0080ff" stroke="#0080ff" stroke-width="0.6"/>
<polygon points="276.3,1690.5 305.6,1674.8 308.2,1666.1 278.8,1682.0" fill="#0080ff" stroke="#0080ff" stroke-width="0.6"/>
<polygon points="278.8,1682.0 308.2,1666.1 310.7,1657.4 281.3,1673.5" fill="#0080ff" stroke="#0080ff" stroke-width="0.6"/>
<polygon points="281.3,1673.5 310.7,1657.4 313.2,1648.8 283.9,1665.0" fill="#0080ff" stroke="#0080ff" stroke-width="0.6"/>
<polygon points="283.9,1665.0 313.2,1648.8 315.8,1640.1 286.4,1656.5" fill="#00aaff" stroke="#00aaff" stroke-width="0.6"/>
<polygon points="286.4,1656.5 315.8,1640.1 318.3,1631.4 288.9,1648.0" fill="#00aaff" stroke="#00aaff" stroke-width="0.6"/>
<polygon points="288.9,1648.0 318.3,1631.4 320.8,1622.7 291.5,1639.5" fill="#00aaff" stroke="#00aaff" stroke-width="0.6"/>
<polygon points="291.5,1639.5 320.8,1622.7 323.3,1614.0 294.0,1631.0" fill="#00ffff" stroke="#00ffff" stroke-width="0.6"/>
<polygon points="294.0,1631.0 323.3,1614.0 325.9,1605.3 296.5,1622.4" fill="#00ffff" stroke="#00ffff" stroke-width="0.6"/>
<polygon points="296.5,1622.4 325.9,1605.3 328.4,1596.6 299.0,1613.9" fill="#00ffff" stroke="#00ffff" stroke-width="0.6"/>
<polygon points="299.0,1613.9 328.4,1596.6 330.9,1587.8 301.6,1605.4" fill="#00ffff" stroke="#00ffff" stroke-width="0.6"/>
<polygon points="301.6,1605.4 330.9,1587.8 333.5,1579.1 304.1,1596.8" fill="#00ffaa" stroke="#00ffaa" stroke-width="0.6"/>
<polygon points="262.6,1821.4 292.0,1808.7 294.5,1799.9 265.2,1812.8" fill="#7800ff" stroke="#7800ff" stroke-width="0.6"/>
<polygon points="265.2,1812.8 294.5,1799.9 297.1,1791.2 267.7,1804.2" fill="#7800ff" stroke="#7800ff" stroke-width="0.6"/>
<polygon points="267.7,1804.2 297.1,1791.2 299.6,1782.4 270.2,1795.6" fill="#7800ff" stroke="#7800ff" stroke-width="0.6"/>
<polygon points="270.2,1795.6 299.6,1782.4 302.1,1773.6 272.7,1787.0" fill="#4000ff" stroke="#4000ff" stroke-width="0.6"/>
<polygon points="272.7,1787.0 302.1,1773.6 304.6,1764.8 275.3,1778.4" fill="#4000ff" stroke="#4000ff" stroke-width="0.6"/>
<polygon points="275.3,1778.4 304.6,1764.8 307.2,1756.1 277.8,1769.8" fill="#4000ff" stroke="#4000ff" stroke-width="0.6"/>
<polygon points="277.8,1769.8 307.2,1756.1 309.7,1747.3 280.3,1761.2" fill="#4000ff" stroke="#4000ff" stroke-width="0.6"/>
<polygon points="280.3,1761.2 309.7,1747.3 312.2,1738.5 282.9,1752.6" fill="#0000ff" stroke="#0000ff" stroke-width="0.6"/>
<polygon points="282.9,1752.6 312.2,1738.5 314.8,1729.7 285.4,1744.0" fill="#0000ff" stroke="#0000ff" stroke-width="0.6"/>
<polygon points="285.4,1744.0 314.8,1729.7 317.3,1720.8 287.9,1735.3" fill="#0000ff" stroke="#0000ff" stroke-width="0.6"/>
<polygon points="287.9,1735.3 317.3,1720.8 319.8,1712.0 290.5,1726.7" fill="#0040ff" stroke="#0040ff" stroke-width="0.6"/>
<polygon points="290.5,1726.7 319.8,1712.0 322.4,1703.2 293.0,1718.1" fill="#0040ff" stroke="#0040ff" stroke-width="0.6"/>
<polygon points="293.0,1718.1 322.4,1703.2 324.9,1694.4 295.5,1709.4" fill="#0040ff" stroke="#0040ff" stroke-width="0.6"/>
<polygon points="295.5,1709.4 324.9,1694.4 327.4,1685.5 298.0,1700.8" fill="#0040ff" stroke="#0040ff" stroke-width="0.6"/>
<polygon points="298.0,1700.8 327.4,1685.5 329.9,1676.7 300.6,1692.1" fill="#0080ff" stroke="#0080ff" stroke-width="0.6"/>
<polygon points="300.6,1692.1 329.9,1676.7 332.5,1667.9 303.1,1683.5" fill="#0080ff" stroke="#0080ff" stroke-width="0.6"/>
<polygon points="303.1,1683.5 332.5,1667.9 335.0,1659.0 305.6,1674.8" fill="#0080ff" stroke="#0080ff" stroke-width="0.6"/>
<polygon points="305.6,1674.8 335.0,1659.0 337.5,1650.2 308.2,1666.1" fill="#00aaff" stroke="#00aaff" stroke-width="0.6"/>
<polygon points="308.2,1666.1 337.5,1650.2 340.1,1641.3 310.7,1657.4" fill="#00aaff" stroke="#00aaff" stroke-width="0.6"/>
<polygon points="310.7,1657.4 340.1,1641.3 342.6,1632.4 313.2,1648.8" fill="#00aaff" stroke="#00aaff" stroke-width="0.6"/>
<polygon points="313.2,1648.8 342.6,1632.4 345.1,1623.6 315.8,1640.1" fill="#00aaff" stroke="#00aaff" stroke-width="0.6"/>
<polygon points="315.8,1640.1 345.1,1623.6 347.6,1614.7 318.3,1631.4" fill="#00ffff" stroke="#00ffff" stroke-width="0.6"/>
<polygon points="318.3,1631.4 347.6,1614.7 350.2,1605.8 320.8,1622.7" fill="#00ffff" stroke="#00ffff" stroke-width="0.6"/>
<polygon points="320.8,1622.7 350.2,1605.8 352.7,1596.9 323.3,1614.0" fill="#00ffff" stroke="#00ffff" stroke-width="0.6"/>
<polygon points="323.3,1614.0 352.7,1596.9 355.2,1588.0 325.9,1605.3" fill="#00ffaa" stroke="#00ffaa" stroke-width="0.6"/>
<polygon points="325.9,1605.3 355.2,1588.0 357.8,1579.1 328.4,1596.6" fill="#00ffaa" stroke="#00ffaa" stroke-width="0.6"/>
<polygon points="328.4,1596.6 357.8,1579.1 360.3,1570.2 330.9,1587.8" fill="#00ffaa" stroke="#00ffaa" stroke-width="0.6"/>
<polygon points="330.9,1587.8 360.3,1570.2 362.8,1561.3 333.5,1579.1" fill="#00ffaa" stroke="#00ffaa" stroke-width="0.6"/>
<polygon points="292.0,1808.7 321.4,1796.0 323.9,1787.0 294.5,1799.9" fill="#7800ff" stroke="#7800ff" stroke-width="0.6"/>
<polygon points="294.5,1799.9 323.9,1787.0 326.4,1778.1 297.1,1791.2" fill="#7800ff" stroke="#7800ff" stroke-width="0.6"/>
<polygon points="297.1,1791.2 326.4,1778.1 329.0,1769.1 299.6,1782.4" fill="#4000ff" stroke="#4000ff" stroke-width="0.6"/>
<polygon points="299.6,1782.4 329.0,1769.1 331.5,1760.2 302.1,1773.6" fill="#4000ff" stroke="#4000ff" stroke-width="0.6"/>
<polygon points="302.1,1773.6 331.5,1760.2 334.0,1751.2 304.6,1764.8" fill="#4000ff" stroke="#4000ff" stroke-width="0.6"/>
<polygon points="304.6,1764.8 334.0,1751.2 336.5,1742.2 307.2,1756.1" fill="#0000ff" stroke="#0000ff" stroke-width="0.6"/>
<polygon points="307.2,1756.1 336.5,1742.2 339.1,1733.2 309.7,1747.3" fill="#0000ff" stroke="#0000ff" stroke-width="0.6"/>
<polygon points="309.7,1747.3 339.1,1733.2 341.6,1724.3 312.2,1738.5" fill="#0000ff" stroke="#0000ff" stroke-width="0.6"/>
<polygon points="312.2,1738.5 341.6,1724.3 344.1,1715.3 314.8,1729.7" fill="#0040ff" stroke="#0040ff" stroke-width="0.6"/>
<polygon points="314.8,1729.7 344.1,1715.3 346.7,1706.3 317.3,1720.8" fill="#0040ff" stroke="#0040ff" stroke-width="0.6"/>
<polygon points="317.3,1720.8 346.7,1706.3 349.2,1697.3 319.8,1712.0" fill="#0040ff" stroke="#0040ff" stroke-width="0.6"/>
<polygon points="319.8,1712.0 349.2,1697.3 351.7,1688.3 322.4,1703.2" fill="#0040ff" stroke="#0040ff" stroke-width="0.6"/>
<polygon points="322.4,1703.2 351.7,1688.3 354.2,1679.3 324.9,1694.4" fill="#0080ff" stroke="#0080ff" stroke-width="0.6"/>
<polygon points="324.9,1694.4 354.2,1679.3 356.8,1670.2 327.4,1685.5" fill="#0080ff" stroke="#0080ff" stroke-width="0.6"/>
<polygon points="327.4,1685.5 356.8,1670.2 359.3,1661.2 329.9,1676.7" fill="#0080ff" stroke="#0080ff" stroke-width="0.6"/>
<polygon points="329.9,1676.7 359.3,1661.2 361.8,1652.2 332.5,1667.9" fill="#00aaff" stroke="#00aaff" stroke-width="0.6"/>
<polygon points="332.5,1667.9 361.8,1652.2 364.4,1643.2 335.0,1659.0" fill="#00aaff" stroke="#00aaff" stroke-width="0.6"/>
<polygon points="335.0,1659.0 364.4,1643.2 366.9,1634.1 337.5,1650.2" fill="#00aaff" stroke="#00aaff" stroke-width="0.6"/>
<polygon points="337.5,1650.2 366.9,1634.1 369.4,1625.1 340.1,1641.3" fill="#00aaff" stroke="#00aaff" stroke-width="0.6"/>
<polygon points="340.1,1641.3 369.4,1625.1 371.9,1616.0 342.6,1632.4" fill="#00ffff" stroke="#00ffff" stroke-width="0.6"/>
<polygon points="342.6,1632.4 371.9,1616.0 374.5,1607.0 345.1,1623.6" fill="#00ffff" stroke="#00ffff" stroke-width="0.6"/>
<polygon points="345.1,1623.6 374.5,1607.0 377.0,1597.9 347.6,1614.7" fill="#00ffff" stroke="#00ffff" stroke-width="0.6"/>
<polygon points="347.6,1614.7 377.0,1597.9 379.5,1588.9 350.2,1605.8" fill="#00ffaa" stroke="#00ffaa" stroke-width="0.6"/>
<polygon points="350.2,1605.8 379.5,1588.9 382.1,1579.8 352.7,1596.9" fill="#00ffaa" stroke="#00ffaa" stroke-width="0.6"/>
<polygon points="352.7,1596.9 382.1,1579.8 384.6,1570.7 355.2,1588.0" fill="#00ffaa" stroke="#00ffaa" stroke-width="0.6"/>
<polygon points="355.2,1588.0 384.6,1570.7 387.1,1561.6 357.8,1579.1" fill="#00ffaa" stroke="#00ffaa" stroke-width="0.6"/>
<polygon points="357.8,1579.1 387.1,1561.6 389.6,1552.6 360.3,1570.2" fill="#00ff80" stroke="#00ff80" stroke-width="0.6"/>
<polygon points="360.3,1570.2 389.6,1552.6 392.2,1543.5 362.8,1561.3" fill="#00ff80" stroke="#00ff80" stroke-width="0.6"/>
<polygon points="321.4,1796.0 350.8,1783.1 353.4,1773.7 324.0,1786.7" fill="#4000ff" stroke="#4000ff" stroke-width="0.6"/>
<polygon points="324.0,1786.7 353.4,1773.7 356.0,1764.2 326.6,1777.4" fill="#4000ff" stroke="#4000ff" stroke-width="0.6"/>
<polygon points="326.6,1777.4 356.0,1764.2 358.6,1754.7 329.2,1768.1" fill="#4000ff" stroke="#4000ff" stroke-width="0.6"/>
<polygon points="329.2,1768.1 358.6,1754.7 361.2,1745.2 331.9,1758.8" fill="#0000ff" stroke="#0000ff" stroke-width="0.6"/>
<polygon points="331.9,1758.8 361.2,1745.2 363.9,1735.8 334.5,1749.5" fill="#0000ff" stroke="#0000ff" stroke-width="0.6"/>
<polygon points="334.5,1749.5 363.9,1735.8 366.5,1726.3 337.1,1740.2" fill="#0000ff" stroke="#0000ff" stroke-width="0.6"/>
<polygon points="337.1,1740.2 366.5,1726.3 369.1,1716.8 339.7,1730.9" fill="#0040ff" stroke="#0040ff" stroke-width="0.6"/>
<polygon points="339.7,1730.9 369.1,1716.8 371.7,1707.2 342.4,1721.6" fill="#0040ff" stroke="#0040ff" stroke-width="0.6"/>
<polygon points="342.4,1721.6 371.7,1707.2 374.3,1697.7 345.0,1712.3" fill="#0040ff" stroke="#0040ff" stroke-width="0.6"/>
<polygon points="345.0,1712.3 374.3,1697.7 377.0,1688.2 347.6,1702.9" fill="#0040ff" stroke="#0040ff" stroke-width="0.6"/>
<polygon points="347.6,1702.9 377.0,1688.2 379.6,1678.7 350.2,1693.6" fill="#0080ff" stroke="#0080ff" stroke-width="0.6"/>
<polygon points="350.2,1693.6 379.6,1678.7 382.2,1669.2 352.8,1684.3" fill="#0080ff" stroke="#0080ff" stroke-width="0.6"/>
<polygon points="352.8,1684.3 382.2,1669.2 384.8,1659.6 355.5,1674.9" fill="#0080ff" stroke="#0080ff" stroke-width="0.6"/>
<polygon points="355.5,1674.9 384.8,1659.6 387.5,1650.1 358.1,1665.6" fill="#00aaff" stroke="#00aaff" stroke-width="0.6"/>
<polygon points="358.1,1665.6 387.5,1650.1 390.1,1640.5 360.7,1656.2" fill="#00aaff" stroke="#00aaff" stroke-width="0.6"/>
<polygon points="360.7,1656.2 390.1,1640.5 392.7,1631.0 363.3,1646.8" fill="#00aaff" stroke="#00aaff" stroke-width="0.6"/>
<polygon points="363.3,1646.8 392.7,1631.0 395.3,1621.4 366.0,1637.5" fill="#00ffff" stroke="#00ffff" stroke-width="0.6"/>
<polygon points="366.0,1637.5 395.3,1621.4 397.9,1611.9 368.6,1628.1" fill="#00ffff" stroke="#00ffff" stroke-width="0.6"/>
<polygon points="368.6,1628.1 397.9,1611.9 400.6,1602.3 371.2,1618.7" fill="#00ffff" stroke="#00ffff" stroke-width="0.6"/>
<polygon points="371.2,1618.7 400.6,1602.3 403.2,1592.7 373.8,1609.3" fill="#00ffaa" stroke="#00ffaa" stroke-width="0.6"/>
<polygon points="373.8,1609.3 403.2,1592.7 405.8,1583.1 376.4,1599.9" fill="#00ffaa" stroke="#00ffaa" stroke-width="0.6"/>
<polygon points="376.4,1599.9 405.8,1583.1 408.4,1573.5 379.1,1590.5" fill="#00ffaa" stroke="#00ffaa" stroke-width="0.6"/>
<polygon points="379.1,1590.5 408.4,1573.5 411.0,1564.0 381.7,1581.1" fill="#00ff80" stroke="#00ff80" stroke-width="0.6"/>
<polygon points="381.7,1581.1 411.0,1564.0 413.7,1554.4 384.3,1571.7" fill="#00ff80" stroke="#00ff80" stroke-width="0.6"/>
<polygon points="384.3,1571.7 413.7,1554.4 416.3,1544.8 386.9,1562.3" fill="#00ff80" stroke="#00ff80" stroke-width="0.6"/>
<polygon points="386.9,1562.3 416.3,1544.8 418.9,1535.1 389.6,1552.9" fill="#00ff80" stroke="#00ff80" stroke-width="0.6"/>
<polygon points="389.6,1552.9 418.9,1535.1 421.5,1525.5 392.2,1543.5" fill="#00ff40" stroke="#00ff40" stroke-width="0.6"/>
<polygon points="350.8,1783.1 380.1,1770.2 382.8,1760.2 353.5,1773.3" fill="#4000ff" stroke="#4000ff" stroke-width="0.6"/>
<polygon points="353.5,1773.3 382.8,1760.2 385.6,1750.2 356.2,1763.5" fill="#0000ff" stroke="#0000ff" stroke-width="0.6"/>
<polygon points="356.2,1763.5 385.6,1750.2 388.3,1740.1 358.9,1753.6" fill="#0000ff" stroke="#0000ff" stroke-width="0.6"/>
<polygon points="358.9,1753.6 388.3,1740.1 391.0,1730.1 361.6,1743.8" fill="#0000ff" stroke="#0000ff" stroke-width="0.6"/>
<polygon points="361.6,1743.8 391.0,1730.1 393.7,1720.0 364.4,1733.9" fill="#0040ff" stroke="#0040ff" stroke-width="0.6"/>
<polygon points="364.4,1733.9 393.7,1720.0 396.5,1710.0 367.1,1724.1" fill="#0040ff" stroke="#0040ff" stroke-width="0.6"/>
<polygon points="367.1,1724.1 396.5,1710.0 399.2,1699.9 369.8,1714.2" fill="#0040ff" stroke="#0040ff" stroke-width="0.6"/>
<polygon points="369.8,1714.2 399.2,1699.9 401.9,1689.8 372.5,1704.3" fill="#0080ff" stroke="#0080ff" stroke-width="0.6"/>
<polygon points="372.5,1704.3 401.9,1689.8 404.6,1679.8 375.3,1694.4" fill="#0080ff" stroke="#0080ff" stroke-width="0.6"/>
<polygon points="375.3,1694.4 404.6,1679.8 407.3,1669.7 378.0,1684.6" fill="#0080ff" stroke="#0080ff" stroke-width="0.6"/>
<polygon points="378.0,1684.6 407.3,1669.7 410.1,1659.6 380.7,1674.7" fill="#0080ff" stroke="#0080ff" stroke-width="0.6"/>
<polygon points="380.7,1674.7 410.1,1659.6 412.8,1649.5 383.4,1664.8" fill="#00aaff" stroke="#00aaff" stroke-width="0.6"/>
<polygon points="383.4,1664.8 412.8,1649.5 415.5,1639.4 386.1,1654.9" fill="#00aaff" stroke="#00aaff" stroke-width="0.6"/>
<polygon points="386.1,1654.9 415.5,1639.4 418.2,1629.3 388.9,1644.9" fill="#00aaff" stroke="#00aaff" stroke-width="0.6"/>
<polygon points="388.9,1644.9 418.2,1629.3 420.9,1619.2 391.6,1635.0" fill="#00ffff" stroke="#00ffff" stroke-width="0.6"/>
<polygon points="391.6,1635.0 420.9,1619.2 423.7,1609.0 394.3,1625.1" fill="#00ffff" stroke="#00ffff" stroke-width="0.6"/>
<polygon points="394.3,1625.1 423.7,1609.0 426.4,1598.9 397.0,1615.2" fill="#00ffff" stroke="#00ffff" stroke-width="0.6"/>
<polygon points="397.0,1615.2 426.4,1598.9 429.1,1588.8 399.8,1605.2" fill="#00ffaa" stroke="#00ffaa" stroke-width="0.6"/>
<polygon points="399.8,1605.2 429.1,1588.8 431.8,1578.6 402.5,1595.3" fill="#00ffaa" stroke="#00ffaa" stroke-width="0.6"/>
<polygon points="402.5,1595.3 431.8,1578.6 434.6,1568.5 405.2,1585.3" fill="#00ffaa" stroke="#00ffaa" stroke-width="0.6"/>
<polygon points="405.2,1585.3 434.6,1568.5 437.3,1558.4 407.9,1575.4" fill="#00ff80" stroke="#00ff80" stroke-width="0.6"/>
<polygon points="407.9,1575.4 437.3,1558.4 440.0,1548.2 410.6,1565.4" fill="#00ff80" stroke="#00ff80" stroke-width="0.6"/>
<polygon points="410.6,1565.4 440.0,1548.2 442.7,1538.0 413.4,1555.5" fill="#00ff80" stroke="#00ff80" stroke-width="0.6"/>
<polygon points="413.4,1555.5 442.7,1538.0 445.4,1527.9 416.1,1545.5" fill="#00ff40" stroke="#00ff40" stroke-width="0.6"/>
<polygon points="416.1,1545.5 445.4,1527.9 448.2,1517.7 418.8,1535.5" fill="#00ff40" stroke="#00ff40" stroke-width="0.6"/>
<polygon points="418.8,1535.5 448.2,1517.7 450.9,1507.5 421.5,1525.5" fill="#00ff40" stroke="#00ff40" stroke-width="0.6"/>
<polygon points="380.1,1770.2 409.5,1757.3 412.2,1747.0 382.8,1760.2" fill="#0000ff" stroke="#0000ff" stroke-width="0.6"/>
<polygon points="382.8,1760.2 412.2,1747.0 414.9,1736.8 385.6,1750.2" fill="#0000ff" stroke="#0000ff" stroke-width="0.6"/>
<polygon points="385.6,1750.2 414.9,1736.8 417.7,1726.6 388.3,1740.1" fill="#0000ff" stroke="#0000ff" stroke-width="0.6"/>
<polygon points="388.3,1740.1 417.7,1726.6 420.4,1716.3 391.0,1730.1" fill="#0040ff" stroke="#0040ff" stroke-width="0.6"/>
<polygon points="391.0,1730.1 420.4,1716.3 423.1,1706.1 393.7,1720.0" fill="#0040ff" stroke="#0040ff" stroke-width="0.6"/>
<polygon points="393.7,1720.0 423.1,1706.1 425.8,1695.8 396.5,1710.0" fill="#0040ff" stroke="#0040ff" stroke-width="0.6"/>
<polygon points="396.5,1710.0 425.8,1695.8 428.5,1685.6 399.2,1699.9" fill="#0080ff" stroke="#0080ff" stroke-width="0.6"/>
<polygon points="399.2,1699.9 428.5,1685.6 431.3,1675.3 401.9,1689.8" fill="#0080ff" stroke="#0080ff" stroke-width="0.6"/>
<polygon points="401.9,1689.8 431.3,1675.3 434.0,1665.0 404.6,1679.8" fill="#0080ff" stroke="#0080ff" stroke-width="0.6"/>
<polygon points="404.6,1679.8 434.0,1665.0 436.7,1654.7 407.3,1669.7" fill="#00aaff" stroke="#00aaff" stroke-width="0.6"/>
<polygon points="407.3,1669.7 436.7,1654.7 439.4,1644.4 410.1,1659.6" fill="#00aaff" stroke="#00aaff" stroke-width="0.6"/>
<polygon points="410.1,1659.6 439.4,1644.4 442.1,1634.1 412.8,1649.5" fill="#00aaff" stroke="#00aaff" stroke-width="0.6"/>
<polygon points="412.8,1649.5 442.1,1634.1 444.9,1623.8 415.5,1639.4" fill="#00ffff" stroke="#00ffff" stroke-width="0.6"/>
<polygon points="415.5,1639.4 444.9,1623.8 447.6,1613.5 418.2,1629.3" fill="#00ffff" stroke="#00ffff" stroke-width="0.6"/>
<polygon points="418.2,1629.3 447.6,1613.5 450.3,1603.2 420.9,1619.2" fill="#00ffff" stroke="#00ffff" stroke-width="0.6"/>
<polygon points="420.9,1619.2 450.3,1603.2 453.0,1592.9 423.7,1609.0" fill="#00ffaa" stroke="#00ffaa" stroke-width="0.6"/>
<polygon points="423.7,1609.0 453.0,1592.9 455.8,1582.6 426.4,1598.9" fill="#00ffaa" stroke="#00ffaa" stroke-width="0.6"/>
<polygon points="426.4,1598.9 455.8,1582.6 458.5,1572.3 429.1,1588.8" fill="#00ffaa" stroke="#00ffaa" stroke-width="0.6"/>
<polygon points="429.1,1588.8 458.5,1572.3 461.2,1561.9 431.8,1578.6" fill="#00ff80" stroke="#00ff80" stroke-width="0.6"/>
<polygon points="431.8,1578.6 461.2,1561.9 463.9,1551.6 434.6,1568.5" fill="#00ff80" stroke="#00ff80" stroke-width="0.6"/>
<polygon points="434.6,1568.5 463.9,1551.6 466.6,1541.2 437.3,1558.4" fill="#00ff80" stroke="#00ff80" stroke-width="0.6"/>
<polygon points="437.3,1558.4 466.6,1541.2 469.4,1530.9 440.0,1548.2" fill="#00ff40" stroke="#00ff40" stroke-width="0.6"/>
<polygon points="440.0,1548.2 469.4,1530.9 472.1,1520.5 442.7,1538.0" fill="#00ff40" stroke="#00ff40" stroke-width="0.6"/>
<polygon points="442.7,1538.0 472.1,1520.5 474.8,1510.2 445.4,1527.9" fill="#00ff40" stroke="#00ff40" stroke-width="0.6"/>
<polygon points="445.4,1527.9 474.8,1510.2 477.5,1499.8 448.2,1517.7" fill="#00ff00" stroke="#00ff00" stroke-width="0.6"/>
<polygon points="448.2,1517.7 477.5,1499.8 480.2,1489.4 450.9,1507.5" fill="#00ff00" stroke="#00ff00" stroke-width="0.6"/>
<polygon points="409.5,1757.3 438.9,1744.2 441.6,1733.8 412.2,1747.0" fill="#0000ff" stroke="#0000ff" stroke-width="0.6"/>
<polygon points="412.2,1747.0 441.6,1733.8 444.3,1723.3 414.9,1736.8" fill="#0040ff" stroke="#0040ff" stroke-width="0.6"/>
<polygon points="414.9,1736.8 444.3,1723.3 447.0,1712.9 417.7,1726.6" fill="#0040ff" stroke="#0040ff" stroke-width="0.6"/>
<polygon points="417.7,1726.6 447.0,1712.9 449.8,1702.5 420.4,1716.3" fill="#0040ff" stroke="#0040ff" stroke-width="0.6"/>
<polygon points="420.4,1716.3 449.8,1702.5 452.5,1692.0 423.1,1706.1" fill="#0080ff" stroke="#0080ff" stroke-width="0.6"/>
<polygon points="423.1,1706.1 452.5,1692.0 455.2,1681.6 425.8,1695.8" fill="#0080ff" stroke="#0080ff" stroke-width="0.6"/>
<polygon points="425.8,1695.8 455.2,1681.6 457.9,1671.1 428.5,1685.6" fill="#0080ff" stroke="#0080ff" stroke-width="0.6"/>
<polygon points="428.5,1685.6 457.9,1671.1 460.6,1660.6 431.3,1675.3" fill="#00aaff" stroke="#00aaff" stroke-width="0.6"/>
<polygon points="431.3,1675.3 460.6,1660.6 463.4,1650.2 434.0,1665.0" fill="#00aaff" stroke="#00aaff" stroke-width="0.6"/>
<polygon points="434.0,1665.0 463.4,1650.2 466.1,1639.7 436.7,1654.7" fill="#00aaff" stroke="#00aaff" stroke-width="0.6"/>
<polygon points="436.7,1654.7 466.1,1639.7 468.8,1629.2 439.4,1644.4" fill="#00ffff" stroke="#00ffff" stroke-width="0.6"/>
<polygon points="439.4,1644.4 468.8,1629.2 471.5,1618.7 442.1,1634.1" fill="#00ffff" stroke="#00ffff" stroke-width="0.6"/>
<polygon points="442.1,1634.1 471.5,1618.7 474.2,1608.2 444.9,1623.8" fill="#00ffff" stroke="#00ffff" stroke-width="0.6"/>
<polygon points="444.9,1623.8 474.2,1608.2 477.0,1597.7 447.6,1613.5" fill="#00ffaa" stroke="#00ffaa" stroke-width="0.6"/>
<polygon points="447.6,1613.5 477.0,1597.7 479.7,1587.2 450.3,1603.2" fill="#00ffaa" stroke="#00ffaa" stroke-width="0.6"/>
<polygon points="450.3,1603.2 479.7,1587.2 482.4,1576.7 453.0,1592.9" fill="#00ffaa" stroke="#00ffaa" stroke-width="0.6"/>
<polygon points="453.0,1592.9 482.4,1576.7 485.1,1566.2 455.8,1582.6" fill="#00ff80" stroke="#00ff80" stroke-width="0.6"/>
<polygon points="455.8,1582.6 485.1,1566.2 487.8,1555.7 458.5,1572.3" fill="#00ff80" stroke="#00ff80" stroke-width="0.6"/>
<polygon points="458.5,1572.3 487.8,1555.7 490.6,1545.1 461.2,1561.9" fill="#00ff80" stroke="#00ff80" stroke-width="0.6"/>
<polygon points="461.2,1561.9 490.6,1545.1 493.3,1534.6 463.9,1551.6" fill="#00ff40" stroke="#00ff40" stroke-width="0.6"/>
<polygon points="463.9,1551.6 493.3,1534.6 496.0,1524.0 466.6,1541.2" fill="#00ff40" stroke="#00ff40" stroke-width="0.6"/>
<polygon points="466.6,1541.2 496.0,1524.0 498.7,1513.5 469.4,1530.9" fill="#00ff40" stroke="#00ff40" stroke-width="0.6"/>
<polygon points="469.4,1530.9 498.7,1513.5 501.4,1502.9 472.1,1520.5" fill="#00ff00" stroke="#00ff00" stroke-width="0.6"/>
<polygon points="472.1,1520.5 501.4,1502.9 504.2,1492.4 474.8,1510.2" fill="#00ff00" stroke="#00ff00" stroke-width="0.6"/>
<polygon points="474.8,1510.2 504.2,1492.4 506.9,1481.8 477.5,1499.8" fill="#00ff00" stroke="#00ff00" stroke-width="0.6"/>
<polygon points="477.5,1499.8 506.9,1481.8 509.6,1471.2 480.2,1489.4" fill="#40ff00" stroke="#40ff00" stroke-width="0.6"/>
<polygon points="438.9,1744.2 468.2,1731.1 471.1,1720.0 441.7,1733.4" fill="#0040ff" stroke="#0040ff" stroke-width="0.6"/>
<polygon points="441.7,1733.4 471.1,1720.0 473.9,1709.0 444.5,1722.5" fill="#0040ff" stroke="#0040ff" stroke-width="0.6"/>
<polygon points="444.5,1722.5 473.9,1709.0 476.7,1697.9 447.4,1711.7" fill="#0080ff" stroke="#0080ff" stroke-width="0.6"/>
<polygon points="447.4,1711.7 476.7,1697.9 479.6,1686.8 450.2,1700.8" fill="#0080ff" stroke="#0080ff" stroke-width="0.6"/>
<polygon points="450.2,1700.8 479.6,1686.8 482.4,1675.8 453.0,1689.9" fill="#0080ff" stroke="#0080ff" stroke-width="0.6"/>
<polygon points="453.0,1689.9 482.4,1675.8 485.2,1664.7 455.8,1679.1" fill="#00aaff" stroke="#00aaff" stroke-width="0.6"/>
<polygon points="455.8,1679.1 485.2,1664.7 488.0,1653.6 458.7,1668.2" fill="#00aaff" stroke="#00aaff" stroke-width="0.6"/>
<polygon points="458.7,1668.2 488.0,1653.6 490.9,1642.5 461.5,1657.3" fill="#00aaff" stroke="#00aaff" stroke-width="0.6"/>
<polygon points="461.5,1657.3 490.9,1642.5 493.7,1631.4 464.3,1646.4" fill="#00ffff" stroke="#00ffff" stroke-width="0.6"/>
<polygon points="464.3,1646.4 493.7,1631.4 496.5,1620.3 467.2,1635.5" fill="#00ffff" stroke="#00ffff" stroke-width="0.6"/>
<polygon points="467.2,1635.5 496.5,1620.3 499.4,1609.2 470.0,1624.6" fill="#00ffff" stroke="#00ffff" stroke-width="0.6"/>
<polygon points="470.0,1624.6 499.4,1609.2 502.2,1598.1 472.8,1613.7" fill="#00ffaa" stroke="#00ffaa" stroke-width="0.6"/>
<polygon points="472.8,1613.7 502.2,1598.1 505.0,1587.0 475.6,1602.8" fill="#00ffaa" stroke="#00ffaa" stroke-width="0.6"/>
<polygon points="475.6,1602.8 505.0,1587.0 507.8,1575.8 478.5,1591.8" fill="#00ffaa" stroke="#00ffaa" stroke-width="0.6"/>
<polygon points="478.5,1591.8 507.8,1575.8 510.7,1564.7 481.3,1580.9" fill="#00ff80" stroke="#00ff80" stroke-width="0.6"/>
<polygon points="481.3,1580.9 510.7,1564.7 513.5,1553.6 484.1,1570.0" fill="#00ff80" stroke="#00ff80" stroke-width="0.6"/>
<polygon points="484.1,1570.0 513.5,1553.6 516.3,1542.4 487.0,1559.0" fill="#00ff40" stroke="#00ff40" stroke-width="0.6"/>
<polygon points="487.0,1559.0 516.3,1542.4 519.2,1531.2 489.8,1548.1" fill="#00ff40" stroke="#00ff40" stroke-width="0.6"/>
<polygon points="489.8,1548.1 519.2,1531.2 522.0,1520.1 492.6,1537.1" fill="#00ff40" stroke="#00ff40" stroke-width="0.6"/>
<polygon points="492.6,1537.1 522.0,1520.1 524.8,1508.9 495.5,1526.1" fill="#00ff00" stroke="#00ff00" stroke-width="0.6"/>
<polygon points="495.5,1526.1 524.8,1508.9 527.6,1497.7 498.3,1515.2" fill="#00ff00" stroke="#00ff00" stroke-width="0.6"/>
<polygon points="498.3,1515.2 527.6,1497.7 530.5,1486.5 501.1,1504.2" fill="#00ff00" stroke="#00ff00" stroke-width="0.6"/>
<polygon points="501.1,1504.2 530.5,1486.5 533.3,1475.4 503.9,1493.2" fill="#40ff00" stroke="#40ff00" stroke-width="0.6"/>
<polygon points="503.9,1493.2 533.3,1475.4 536.1,1464.2 506.8,1482.2" fill="#40ff00" stroke="#40ff00" stroke-width="0.6"/>
<polygon points="506.8,1482.2 536.1,1464.2 539.0,1453.0 509.6,1471.2" fill="#40ff00" stroke="#40ff00" stroke-width="0.6"/>
<polygon points="468.2,1731.1 497.6,1717.8 500.6,1706.1 471.2,1719.6" fill="#0040ff" stroke="#0040ff" stroke-width="0.6"/>
<polygon points="471.2,1719.6 500.6,1706.1 503.5,1694.4 474.1,1708.0" fill="#0080ff" stroke="#0080ff" stroke-width="0.6"/>
<polygon points="474.1,1708.0 503.5,1694.4 506.5,1682.7 477.1,1696.5" fill="#0080ff" stroke="#0080ff" stroke-width="0.6"/>
<polygon points="477.1,1696.5 506.5,1682.7 509.4,1670.9 480.0,1685.0" fill="#00aaff" stroke="#00aaff" stroke-width="0.6"/>
<polygon points="480.0,1685.0 509.4,1670.9 512.4,1659.2 483.0,1673.5" fill="#00aaff" stroke="#00aaff" stroke-width="0.6"/>
<polygon points="483.0,1673.5 512.4,1659.2 515.3,1647.4 485.9,1661.9" fill="#00aaff" stroke="#00aaff" stroke-width="0.6"/>
<polygon points="485.9,1661.9 515.3,1647.4 518.2,1635.7 488.9,1650.4" fill="#00ffff" stroke="#00ffff" stroke-width="0.6"/>
<polygon points="488.9,1650.4 518.2,1635.7 521.2,1623.9 491.8,1638.8" fill="#00ffff" stroke="#00ffff" stroke-width="0.6"/>
<polygon points="491.8,1638.8 521.2,1623.9 524.1,1612.1 494.8,1627.3" fill="#00ffff" stroke="#00ffff" stroke-width="0.6"/>
<polygon points="494.8,1627.3 524.1,1612.1 527.1,1600.3 497.7,1615.7" fill="#00ffaa" stroke="#00ffaa" stroke-width="0.6"/>
<polygon points="497.7,1615.7 527.1,1600.3 530.0,1588.5 500.7,1604.1" fill="#00ffaa" stroke="#00ffaa" stroke-width="0.6"/>
<polygon points="500.7,1604.1 530.0,1588.5 533.0,1576.7 503.6,1592.5" fill="#00ff80" stroke="#00ff80" stroke-width="0.6"/>
<polygon points="503.6,1592.5 533.0,1576.7 535.9,1564.9 506.5,1580.9" fill="#00ff80" stroke="#00ff80" stroke-width="0.6"/>
<polygon points="506.5,1580.9 535.9,1564.9 538.9,1553.1 509.5,1569.3" fill="#00ff80" stroke="#00ff80" stroke-width="0.6"/>
<polygon points="509.5,1569.3 538.9,1553.1 541.8,1541.3 512.4,1557.7" fill="#00ff40" stroke="#00ff40" stroke-width="0.6"/>
<polygon points="512.4,1557.7 541.8,1541.3 544.7,1529.5 515.4,1546.1" fill="#00ff40" stroke="#00ff40" stroke-width="0.6"/>
<polygon points="515.4,1546.1 544.7,1529.5 547.7,1517.7 518.3,1534.5" fill="#00ff40" stroke="#00ff40" stroke-width="0.6"/>
<polygon points="518.3,1534.5 547.7,1517.7 550.6,1505.8 521.3,1522.9" fill="#00ff00" stroke="#00ff00" stroke-width="0.6"/>
<polygon points="521.3,1522.9 550.6,1505.8 553.6,1494.0 524.2,1511.2" fill="#00ff00" stroke="#00ff00" stroke-width="0.6"/>
<polygon points="524.2,1511.2 553.6,1494.0 556.5,1482.1 527.2,1499.6" fill="#40ff00" stroke="#40ff00" stroke-width="0.6"/>
<polygon points="527.2,1499.6 556.5,1482.1 559.5,1470.2 530.1,1487.9" fill="#40ff00" stroke="#40ff00" stroke-width="0.6"/>
<polygon points="530.1,1487.9 559.5,1470.2 562.4,1458.4 533.1,1476.3" fill="#40ff00" stroke="#40ff00" stroke-width="0.6"/>
<polygon points="533.1,1476.3 562.4,1458.4 565.4,1446.5 536.0,1464.6" fill="#80ff00" stroke="#80ff00" stroke-width="0.6"/>
<polygon points="536.0,1464.6 565.4,1446.5 568.3,1434.6 539.0,1453.0" fill="#80ff00" stroke="#80ff00" stroke-width="0.6"/>
<polygon points="497.6,1717.8 527.0,1704.5 529.9,1692.6 500.6,1706.1" fill="#0080ff" stroke="#0080ff" stroke-width="0.6"/>
<polygon points="500.6,1706.1 529.9,1692.6 532.9,1680.7 503.5,1694.4" fill="#0080ff" stroke="#0080ff" stroke-width="0.6"/>
<polygon points="503.5,1694.4 532.9,1680.7 535.8,1668.7 506.5,1682.7" fill="#00aaff" stroke="#00aaff" stroke-width="0.6"/>
<polygon points="506.5,1682.7 535.8,1668.7 538.8,1656.8 509.4,1670.9" fill="#00aaff" stroke="#00aaff" stroke-width="0.6"/>
<polygon points="509.4,1670.9 538.8,1656.8 541.7,1644.8 512.4,1659.2" fill="#00aaff" stroke="#00aaff" stroke-width="0.6"/>
<polygon points="512.4,1659.2 541.7,1644.8 544.7,1632.8 515.3,1647.4" fill="#00ffff" stroke="#00ffff" stroke-width="0.6"/>
<polygon points="515.3,1647.4 544.7,1632.8 547.6,1620.9 518.2,1635.7" fill="#00ffff" stroke="#00ffff" stroke-width="0.6"/>
<polygon points="518.2,1635.7 547.6,1620.9 550.6,1608.9 521.2,1623.9" fill="#00ffaa" stroke="#00ffaa" stroke-width="0.6"/>
<polygon points="521.2,1623.9 550.6,1608.9 553.5,1596.9 524.1,1612.1" fill="#00ffaa" stroke="#00ffaa" stroke-width="0.6"/>
<polygon points="524.1,1612.1 553.5,1596.9 556.4,1584.9 527.1,1600.3" fill="#00ffaa" stroke="#00ffaa" stroke-width="0.6"/>
<polygon points="527.1,1600.3 556.4,1584.9 559.4,1572.9 530.0,1588.5" fill="#00ff80" stroke="#00ff80" stroke-width="0.6"/>
<polygon points="530.0,1588.5 559.4,1572.9 562.3,1560.9 533.0,1576.7" fill="#00ff80" stroke="#00ff80" stroke-width="0.6"/>
<polygon points="533.0,1576.7 562.3,1560.9 565.3,1548.9 535.9,1564.9" fill="#00ff40" stroke="#00ff40" stroke-width="0.6"/>
<polygon points="535.9,1564.9 565.3,1548.9 568.2,1536.8 538.9,1553.1" fill="#00ff40" stroke="#00ff40" stroke-width="0.6"/>
<polygon points="538.9,1553.1 568.2,1536.8 571.2,1524.8 541.8,1541.3" fill="#00ff40" stroke="#00ff40" stroke-width="0.6"/>
<polygon points="541.8,1541.3 571.2,1524.8 574.1,1512.8 544.7,1529.5" fill="#00ff00" stroke="#00ff00" stroke-width="0.6"/>
<polygon points="544.7,1529.5 574.1,1512.8 577.1,1500.7 547.7,1517.7" fill="#00ff00" stroke="#00ff00" stroke-width="0.6"/>
<polygon points="547.7,1517.7 577.1,1500.7 580.0,1488.7 550.6,1505.8" fill="#00ff00" stroke="#00ff00" stroke-width="0.6"/>
<polygon points="550.6,1505.8 580.0,1488.7 582.9,1476.6 553.6,1494.0" fill="#40ff00" stroke="#40ff00" stroke-width="0.6"/>
<polygon points="553.6,1494.0 582.9,1476.6 585.9,1464.5 556.5,1482.1" fill="#40ff00" stroke="#40ff00" stroke-width="0.6"/>
<polygon points="556.5,1482.1 585.9,1464.5 588.8,1452.5 559.5,1470.2" fill="#80ff00" stroke="#80ff00" stroke-width="0.6"/>
<polygon points="559.5,1470.2 588.8,1452.5 591.8,1440.4 562.4,1458.4" fill="#80ff00" stroke="#80ff00" stroke-width="0.6"/>
<polygon points="562.4,1458.4 591.8,1440.4 594.7,1428.3 565.4,1446.5" fill="#80ff00" stroke="#80ff00" stroke-width="0.6"/>
<polygon points="565.4,1446.5 594.7,1428.3 597.7,1416.2 568.3,1434.6" fill="#aaff00" stroke="#aaff00" stroke-width="0.6"/>
<polygon points="527.0,1704.5 556.4,1691.2 559.3,1679.0 529.9,1692.6" fill="#0080ff" stroke="#0080ff" stroke-width="0.6"/>
<polygon points="529.9,1692.6 559.3,1679.0 562.3,1666.9 532.9,1680.7" fill="#00aaff" stroke="#00aaff" stroke-width="0.6"/>
<polygon points="532.9,1680.7 562.3,1666.9 565.2,1654.7 535.8,1668.7" fill="#00aaff" stroke="#00aaff" stroke-width="0.6"/>
<polygon points="535.8,1668.7 565.2,1654.7 568.1,1642.5 538.8,1656.8" fill="#00ffff" stroke="#00ffff" stroke-width="0.6"/>
<polygon points="538.8,1656.8 568.1,1642.5 571.1,1630.4 541.7,1644.8" fill="#00ffff" stroke="#00ffff" stroke-width="0.6"/>
<polygon points="541.7,1644.8 571.1,1630.4 574.0,1618.2 544.7,1632.8" fill="#00ffff" stroke="#00ffff" stroke-width="0.6"/>
<polygon points="544.7,1632.8 574.0,1618.2 577.0,1606.0 547.6,1620.9" fill="#00ffaa" stroke="#00ffaa" stroke-width="0.6"/>
<polygon points="547.6,1620.9 577.0,1606.0 579.9,1593.8 550.6,1608.9" fill="#00ffaa" stroke="#00ffaa" stroke-width="0.6"/>
<polygon points="550.6,1608.9 579.9,1593.8 582.9,1581.6 553.5,1596.9" fill="#00ff80" stroke="#00ff80" stroke-width="0.6"/>
<polygon points="553.5,1596.9 582.9,1581.6 585.8,1569.4 556.4,1584.9" fill="#00ff80" stroke="#00ff80" stroke-width="0.6"/>
<polygon points="556.4,1584.9 585.8,1569.4 588.8,1557.2 559.4,1572.9" fill="#00ff80" stroke="#00ff80" stroke-width="0.6"/>
<polygon points="559.4,1572.9 588.8,1557.2 591.7,1545.0 562.3,1560.9" fill="#00ff40" stroke="#00ff40" stroke-width="0.6"/>
<polygon points="562.3,1560.9 591.7,1545.0 594.6,1532.7 565.3,1548.9" fill="#00ff40" stroke="#00ff40" stroke-width="0.6"/>
<polygon points="565.3,1548.9 594.6,1532.7 597.6,1520.5 568.2,1536.8" fill="#00ff00" stroke="#00ff00" stroke-width="0.6"/>
<polygon points="568.2,1536.8 597.6,1520.5 600.5,1508.2 571.2,1524.8" fill="#00ff00" stroke="#00ff00" stroke-width="0.6"/>
<polygon points="571.2,1524.8 600.5,1508.2 603.5,1496.0 574.1,1512.8" fill="#00ff00" stroke="#00ff00" stroke-width="0.6"/>
<polygon points="574.1,1512.8 603.5,1496.0 606.4,1483.7 577.1,1500.7" fill="#40ff00" stroke="#40ff00" stroke-width="0.6"/>
<polygon points="577.1,1500.7 606.4,1483.7 609.4,1471.5 580.0,1488.7" fill="#40ff00" stroke="#40ff00" stroke-width="0.6"/>
<polygon points="580.0,1488.7 609.4,1471.5 612.3,1459.2 582.9,1476.6" fill="#40ff00" stroke="#40ff00" stroke-width="0.6"/>
<polygon points="582.9,1476.6 612.3,1459.2 615.2,1446.9 585.9,1464.5" fill="#80ff00" stroke="#80ff00" stroke-width="0.6"/>
<polygon points="585.9,1464.5 615.2,1446.9 618.2,1434.6 588.8,1452.5" fill="#80ff00" stroke="#80ff00" stroke-width="0.6"/>
<polygon points="588.8,1452.5 618.2,1434.6 621.1,1422.3 591.8,1440.4" fill="#aaff00" stroke="#aaff00" stroke-width="0.6"/>
<polygon points="591.8,1440.4 621.1,1422.3 624.1,1410.0 594.7,1428.3" fill="#aaff00" stroke="#aaff00" stroke-width="0.6"/>
<polygon points="594.7,1428.3 624.1,1410.0 627.0,1397.7 597.7,1416.2" fill="#aaff00" stroke="#aaff00" stroke-width="0.6"/>
<polygon points="556.4,1691.2 585.8,1677.7 588.8,1664.8 559.4,1678.5" fill="#00aaff" stroke="#00aaff" stroke-width="0.6"/>
<polygon points="559.4,1678.5 588.8,1664.8 591.9,1651.9 562.5,1665.8" fill="#00aaff" stroke="#00aaff" stroke-width="0.6"/>
<polygon points="562.5,1665.8 591.9,1651.9 595.0,1639.0 565.6,1653.1" fill="#00ffff" stroke="#00ffff" stroke-width="0.6"/>
<polygon points="565.6,1653.1 595.0,1639.0 598.0,1626.1 568.7,1640.4" fill="#00ffff" stroke="#00ffff" stroke-width="0.6"/>
<polygon points="568.7,1640.4 598.0,1626.1 601.1,1613.1 571.7,1627.7" fill="#00ffaa" stroke="#00ffaa" stroke-width="0.6"/>
<polygon points="571.7,1627.7 601.1,1613.1 604.2,1600.2 574.8,1615.0" fill="#00ffaa" stroke="#00ffaa" stroke-width="0.6"/>
<polygon points="574.8,1615.0 604.2,1600.2 607.2,1587.3 577.9,1602.3" fill="#00ff80" stroke="#00ff80" stroke-width="0.6"/>
<polygon points="577.9,1602.3 607.2,1587.3 610.3,1574.3 580.9,1589.6" fill="#00ff80" stroke="#00ff80" stroke-width="0.6"/>
<polygon points="580.9,1589.6 610.3,1574.3 613.4,1561.4 584.0,1576.8" fill="#00ff80" stroke="#00ff80" stroke-width="0.6"/>
<polygon points="584.0,1576.8 613.4,1561.4 616.5,1548.4 587.1,1564.1" fill="#00ff40" stroke="#00ff40" stroke-width="0.6"/>
<polygon points="587.1,1564.1 616.5,1548.4 619.5,1535.4 590.2,1551.3" fill="#00ff40" stroke="#00ff40" stroke-width="0.6"/>
<polygon points="590.2,1551.3 619.5,1535.4 622.6,1522.4 593.2,1538.6" fill="#00ff00" stroke="#00ff00" stroke-width="0.6"/>
<polygon points="593.2,1538.6 622.6,1522.4 625.7,1509.5 596.3,1525.8" fill="#00ff00" stroke="#00ff00" stroke-width="0.6"/>
<polygon points="596.3,1525.8 625.7,1509.5 628.7,1496.5 599.4,1513.0" fill="#00ff00" stroke="#00ff00" stroke-width="0.6"/>
<polygon points="599.4,1513.0 628.7,1496.5 631.8,1483.5 602.4,1500.2" fill="#40ff00" stroke="#40ff00" stroke-width="0.6"/>
<polygon points="602.4,1500.2 631.8,1483.5 634.9,1470.4 605.5,1487.5" fill="#40ff00" stroke="#40ff00" stroke-width="0.6"/>
<polygon points="605.5,1487.5 634.9,1470.4 637.9,1457.4 608.6,1474.7" fill="#80ff00" stroke="#80ff00" stroke-width="0.6"/>
<polygon points="608.6,1474.7 637.9,1457.4 641.0,1444.4 611.7,1461.9" fill="#80ff00" stroke="#80ff00" stroke-width="0.6"/>
<polygon points="611.7,1461.9 641.0,1444.4 644.1,1431.4 614.7,1449.0" fill="#80ff00" stroke="#80ff00" stroke-width="0.6"/>
<polygon points="614.7,1449.0 644.1,1431.4 647.2,1418.3 617.8,1436.2" fill="#aaff00" stroke="#aaff00" stroke-width="0.6"/>
<polygon points="617.8,1436.2 647.2,1418.3 650.2,1405.3 620.9,1423.4" fill="#aaff00" stroke="#aaff00" stroke-width="0.6"/>
<polygon points="620.9,1423.4 650.2,1405.3 653.3,1392.2 623.9,1410.5" fill="#ffff00" stroke="#ffff00" stroke-width="0.6"/>
<polygon points="623.9,1410.5 653.3,1392.2 656.4,1379.1 627.0,1397.7" fill="#ffff00" stroke="#ffff00" stroke-width="0.6"/>
<polygon points="585.8,1677.7 615.1,1664.2 618.3,1650.5 589.0,1664.2" fill="#00ffff" stroke="#00ffff" stroke-width="0.6"/>
<polygon points="589.0,1664.2 618.3,1650.5 621.5,1636.7 592.2,1650.7" fill="#00ffff" stroke="#00ffff" stroke-width="0.6"/>
<polygon points="592.2,1650.7 621.5,1636.7 624.8,1623.0 595.4,1637.2" fill="#00ffff" stroke="#00ffff" stroke-width="0.6"/>
<polygon points="595.4,1637.2 624.8,1623.0 628.0,1609.3 598.6,1623.7" fill="#00ffaa" stroke="#00ffaa" stroke-width="0.6"/>
<polygon points="598.6,1623.7 628.0,1609.3 631.2,1595.5 601.8,1610.2" fill="#00ffaa" stroke="#00ffaa" stroke-width="0.6"/>
<polygon points="601.8,1610.2 631.2,1595.5 634.4,1581.8 605.0,1596.7" fill="#00ff80" stroke="#00ff80" stroke-width="0.6"/>
<polygon points="605.0,1596.7 634.4,1581.8 637.6,1568.0 608.2,1583.2" fill="#00ff80" stroke="#00ff80" stroke-width="0.6"/>
<polygon points="608.2,1583.2 637.6,1568.0 640.8,1554.2 611.4,1569.6" fill="#00ff40" stroke="#00ff40" stroke-width="0.6"/>
<polygon points="611.4,1569.6 640.8,1554.2 644.0,1540.4 614.6,1556.1" fill="#00ff40" stroke="#00ff40" stroke-width="0.6"/>
<polygon points="614.6,1556.1 644.0,1540.4 647.2,1526.6 617.9,1542.5" fill="#00ff00" stroke="#00ff00" stroke-width="0.6"/>
<polygon points="617.9,1542.5 647.2,1526.6 650.4,1512.8 621.1,1528.9" fill="#00ff00" stroke="#00ff00" stroke-width="0.6"/>
<polygon points="621.1,1528.9 650.4,1512.8 653.6,1499.0 624.3,1515.4" fill="#00ff00" stroke="#00ff00" stroke-width="0.6"/>
<polygon points="624.3,1515.4 653.6,1499.0 656.8,1485.2 627.5,1501.8" fill="#40ff00" stroke="#40ff00" stroke-width="0.6"/>
<polygon points="627.5,1501.8 656.8,1485.2 660.1,1471.4 630.7,1488.2" fill="#40ff00" stroke="#40ff00" stroke-width="0.6"/>
<polygon points="630.7,1488.2 660.1,1471.4 663.3,1457.6 633.9,1474.6" fill="#80ff00" stroke="#80ff00" stroke-width="0.6"/>
<polygon points="633.9,1474.6 663.3,1457.6 666.5,1443.7 637.1,1461.0" fill="#80ff00" stroke="#80ff00" stroke-width="0.6"/>
<polygon points="637.1,1461.0 666.5,1443.7 669.7,1429.9 640.3,1447.3" fill="#aaff00" stroke="#aaff00" stroke-width="0.6"/>
<polygon points="640.3,1447.3 669.7,1429.9 672.9,1416.0 643.5,1433.7" fill="#aaff00" stroke="#aaff00" stroke-width="0.6"/>
<polygon points="643.5,1433.7 672.9,1416.0 676.1,1402.1 646.7,1420.1" fill="#aaff00" stroke="#aaff00" stroke-width="0.6"/>
<polygon points="646.7,1420.1 676.1,1402.1 679.3,1388.2 650.0,1406.4" fill="#ffff00" stroke="#ffff00" stroke-width="0.6"/>
<polygon points="650.0,1406.4 679.3,1388.2 682.5,1374.4 653.2,1392.8" fill="#ffff00" stroke="#ffff00" stroke-width="0.6"/>
<polygon points="653.2,1392.8 682.5,1374.4 685.7,1360.5 656.4,1379.1" fill="#ffaa00" stroke="#ffaa00" stroke-width="0.6"/>
<polygon points="615.1,1664.2 644.5,1650.6 647.7,1636.6 618.3,1650.5" fill="#00ffff" stroke="#00ffff" stroke-width="0.6"/>
<polygon points="618.3,1650.5 647.7,1636.6 650.9,1622.7 621.5,1636.7" fill="#00ffaa" stroke="#00ffaa" stroke-width="0.6"/>
<polygon points="621.5,1636.7 650.9,1622.7 654.1,1608.7 624.8,1623.0" fill="#00ffaa" stroke="#00ffaa" stroke-width="0.6"/>
<polygon points="624.8,1623.0 654.1,1608.7 657.3,1594.7 628.0,1609.3" fill="#00ffaa" stroke="#00ffaa" stroke-width="0.6"/>
<polygon points="628.0,1609.3 657.3,1594.7 660.5,1580.7 631.2,1595.5" fill="#00ff80" stroke="#00ff80" stroke-width="0.6"/>
<polygon points="631.2,1595.5 660.5,1580.7 663.7,1566.7 634.4,1581.8" fill="#00ff80" stroke="#00ff80" stroke-width="0.6"/>
<polygon points="634.4,1581.8 663.7,1566.7 667.0,1552.7 637.6,1568.0" fill="#00ff40" stroke="#00ff40" stroke-width="0.6"/>
<polygon points="637.6,1568.0 667.0,1552.7 670.2,1538.7 640.8,1554.2" fill="#00ff40" stroke="#00ff40" stroke-width="0.6"/>
<polygon points="640.8,1554.2 670.2,1538.7 673.4,1524.7 644.0,1540.4" fill="#00ff00" stroke="#00ff00" stroke-width="0.6"/>
<polygon points="644.0,1540.4 673.4,1524.7 676.6,1510.7 647.2,1526.6" fill="#00ff00" stroke="#00ff00" stroke-width="0.6"/>
<polygon points="647.2,1526.6 676.6,1510.7 679.8,1496.7 650.4,1512.8" fill="#40ff00" stroke="#40ff00" stroke-width="0.6"/>
<polygon points="650.4,1512.8 679.8,1496.7 683.0,1482.6 653.6,1499.0" fill="#40ff00" stroke="#40ff00" stroke-width="0.6"/>
<polygon points="653.6,1499.0 683.0,1482.6 686.2,1468.6 656.8,1485.2" fill="#40ff00" stroke="#40ff00" stroke-width="0.6"/>
<polygon points="656.8,1485.2 686.2,1468.6 689.4,1454.5 660.1,1471.4" fill="#80ff00" stroke="#80ff00" stroke-width="0.6"/>
<polygon points="660.1,1471.4 689.4,1454.5 692.6,1440.4 663.3,1457.6" fill="#80ff00" stroke="#80ff00" stroke-width="0.6"/>
<polygon points="663.3,1457.6 692.6,1440.4 695.8,1426.4 666.5,1443.7" fill="#aaff00" stroke="#aaff00" stroke-width="0.6"/>
<polygon points="666.5,1443.7 695.8,1426.4 699.0,1412.3 669.7,1429.9" fill="#aaff00" stroke="#aaff00" stroke-width="0.6"/>
<polygon points="669.7,1429.9 699.0,1412.3 702.2,1398.2 672.9,1416.0" fill="#ffff00" stroke="#ffff00" stroke-width="0.6"/>
<polygon points="672.9,1416.0 702.2,1398.2 705.5,1384.1 676.1,1402.1" fill="#ffff00" stroke="#ffff00" stroke-width="0.6"/>
<polygon points="676.1,1402.1 705.5,1384.1 708.7,1370.0 679.3,1388.2" fill="#ffaa00" stroke="#ffaa00" stroke-width="0.6"/>
<polygon points="679.3,1388.2 708.7,1370.0 711.9,1355.9 682.5,1374.4" fill="#ffaa00" stroke="#ffaa00" stroke-width="0.6"/>
<polygon points="682.5,1374.4 711.9,1355.9 715.1,1341.7 685.7,1360.5" fill="#ff8000" stroke="#ff8000" stroke-width="0.6"/>
<polygon points="644.5,1650.6 673.9,1636.9 677.1,1622.7 647.7,1636.6" fill="#00ffaa" stroke="#00ffaa" stroke-width="0.6"/>
<polygon points="647.7,1636.6 677.1,1622.7 680.3,1608.5 650.9,1622.7" fill="#00ffaa" stroke="#00ffaa" stroke-width="0.6"/>
<polygon points="650.9,1622.7 680.3,1608.5 683.5,1594.3 654.1,1608.7" fill="#00ff80" stroke="#00ff80" stroke-width="0.6"/>
<polygon points="654.1,1608.7 683.5,1594.3 686.7,1580.1 657.3,1594.7" fill="#00ff80" stroke="#00ff80" stroke-width="0.6"/>
<polygon points="657.3,1594.7 686.7,1580.1 689.9,1565.9 660.5,1580.7" fill="#00ff40" stroke="#00ff40" stroke-width="0.6"/>
<polygon points="660.5,1580.7 689.9,1565.9 693.1,1551.7 663.7,1566.7" fill="#00ff40" stroke="#00ff40" stroke-width="0.6"/>
<polygon points="663.7,1566.7 693.1,1551.7 696.3,1537.4 667.0,1552.7" fill="#00ff40" stroke="#00ff40" stroke-width="0.6"/>
<polygon points="667.0,1552.7 696.3,1537.4 699.5,1523.2 670.2,1538.7" fill="#00ff00" stroke="#00ff00" stroke-width="0.6"/>
<polygon points="670.2,1538.7 699.5,1523.2 702.7,1508.9 673.4,1524.7" fill="#00ff00" stroke="#00ff00" stroke-width="0.6"/>
<polygon points="673.4,1524.7 702.7,1508.9 705.9,1494.7 676.6,1510.7" fill="#40ff00" stroke="#40ff00" stroke-width="0.6"/>
<polygon points="676.6,1510.7 705.9,1494.7 709.2,1480.4 679.8,1496.7" fill="#40ff00" stroke="#40ff00" stroke-width="0.6"/>
<polygon points="679.8,1496.7 709.2,1480.4 712.4,1466.1 683.0,1482.6" fill="#80ff00" stroke="#80ff00" stroke-width="0.6"/>
<polygon points="683.0,1482.6 712.4,1466.1 715.6,1451.9 686.2,1468.6" fill="#80ff00" stroke="#80ff00" stroke-width="0.6"/>
<polygon points="686.2,1468.6 715.6,1451.9 718.8,1437.6 689.4,1454.5" fill="#aaff00" stroke="#aaff00" stroke-width="0.6"/>
<polygon points="689.4,1454.5 718.8,1437.6 722.0,1423.3 692.6,1440.4" fill="#aaff00" stroke="#aaff00" stroke-width="0.6"/>
<polygon points="692.6,1440.4 722.0,1423.3 725.2,1409.0 695.8,1426.4" fill="#aaff00" stroke="#aaff00" stroke-width="0.6"/>
<polygon points="695.8,1426.4 725.2,1409.0 728.4,1394.6 699.0,1412.3" fill="#ffff00" stroke="#ffff00" stroke-width="0.6"/>
<polygon points="699.0,1412.3 728.4,1394.6 731.6,1380.3 702.2,1398.2" fill="#ffff00" stroke="#ffff00" stroke-width="0.6"/>
<polygon points="702.2,1398.2 731.6,1380.3 734.8,1366.0 705.5,1384.1" fill="#ffaa00" stroke="#ffaa00" stroke-width="0.6"/>
<polygon points="705.5,1384.1 734.8,1366.0 738.0,1351.6 708.7,1370.0" fill="#ffaa00" stroke="#ffaa00" stroke-width="0.6"/>
<polygon points="708.7,1370.0 738.0,1351.6 741.2,1337.3 711.9,1355.9" fill="#ff8000" stroke="#ff8000" stroke-width="0.6"/>
<polygon points="711.9,1355.9 741.2,1337.3 744.4,1322.9 715.1,1341.7" fill="#ff8000" stroke="#ff8000" stroke-width="0.6"/>
<polygon points="673.9,1636.9 703.2,1623.1 706.6,1608.0 677.2,1622.0" fill="#00ffaa" stroke="#00ffaa" stroke-width="0.6"/>
<polygon points="677.2,1622.0 706.6,1608.0 710.0,1592.9 680.6,1607.1" fill="#00ff80" stroke="#00ff80" stroke-width="0.6"/>
<polygon points="680.6,1607.1 710.0,1592.9 713.3,1577.8 684.0,1592.3" fill="#00ff80" stroke="#00ff80" stroke-width="0.6"/>
<polygon points="684.0,1592.3 713.3,1577.8 716.7,1562.6 687.3,1577.4" fill="#00ff40" stroke="#00ff40" stroke-width="0.6"/>
<polygon points="687.3,1577.4 716.7,1562.6 720.0,1547.5 690.7,1562.5" fill="#00ff40" stroke="#00ff40" stroke-width="0.6"/>
<polygon points="690.7,1562.5 720.0,1547.5 723.4,1532.3 694.0,1547.6" fill="#00ff00" stroke="#00ff00" stroke-width="0.6"/>
<polygon points="694.0,1547.6 723.4,1532.3 726.8,1517.2 697.4,1532.7" fill="#00ff00" stroke="#00ff00" stroke-width="0.6"/>
<polygon points="697.4,1532.7 726.8,1517.2 730.1,1502.0 700.8,1517.8" fill="#40ff00" stroke="#40ff00" stroke-width="0.6"/>
<polygon points="700.8,1517.8 730.1,1502.0 733.5,1486.9 704.1,1502.8" fill="#40ff00" stroke="#40ff00" stroke-width="0.6"/>
<polygon points="704.1,1502.8 733.5,1486.9 736.8,1471.7 707.5,1487.9" fill="#80ff00" stroke="#80ff00" stroke-width="0.6"/>
<polygon points="707.5,1487.9 736.8,1471.7 740.2,1456.5 710.8,1472.9" fill="#80ff00" stroke="#80ff00" stroke-width="0.6"/>
<polygon points="710.8,1472.9 740.2,1456.5 743.6,1441.3 714.2,1458.0" fill="#aaff00" stroke="#aaff00" stroke-width="0.6"/>
<polygon points="714.2,1458.0 743.6,1441.3 746.9,1426.1 717.6,1443.0" fill="#aaff00" stroke="#aaff00" stroke-width="0.6"/>
<polygon points="717.6,1443.0 746.9,1426.1 750.3,1410.8 720.9,1428.0" fill="#ffff00" stroke="#ffff00" stroke-width="0.6"/>
<polygon points="720.9,1428.0 750.3,1410.8 753.6,1395.6 724.3,1413.0" fill="#ffff00" stroke="#ffff00" stroke-width="0.6"/>
<polygon points="724.3,1413.0 753.6,1395.6 757.0,1380.4 727.6,1398.0" fill="#ffff00" stroke="#ffff00" stroke-width="0.6"/>
<polygon points="727.6,1398.0 757.0,1380.4 760.4,1365.1 731.0,1383.0" fill="#ffaa00" stroke="#ffaa00" stroke-width="0.6"/>
<polygon points="731.0,1383.0 760.4,1365.1 763.7,1349.9 734.4,1368.0" fill="#ffaa00" stroke="#ffaa00" stroke-width="0.6"/>
<polygon points="734.4,1368.0 763.7,1349.9 767.1,1334.6 737.7,1353.0" fill="#ff8000" stroke="#ff8000" stroke-width="0.6"/>
<polygon points="737.7,1353.0 767.1,1334.6 770.4,1319.3 741.1,1338.0" fill="#ff8000" stroke="#ff8000" stroke-width="0.6"/>
<polygon points="741.1,1338.0 770.4,1319.3 773.8,1304.0 744.4,1322.9" fill="#ff4000" stroke="#ff4000" stroke-width="0.6"/>
<polygon points="703.3,1623.1 732.6,1609.2 736.2,1593.1 706.8,1607.2" fill="#00ff80" stroke="#00ff80" stroke-width="0.6"/>
<polygon points="706.8,1607.2 736.2,1593.1 739.7,1577.0 710.3,1591.4" fill="#00ff80" stroke="#00ff80" stroke-width="0.6"/>
<polygon points="710.3,1591.4 739.7,1577.0 743.2,1560.9 713.8,1575.5" fill="#00ff40" stroke="#00ff40" stroke-width="0.6"/>
<polygon points="713.8,1575.5 743.2,1560.9 746.7,1544.7 717.4,1559.6" fill="#00ff40" stroke="#00ff40" stroke-width="0.6"/>
<polygon points="717.4,1559.6 746.7,1544.7 750.3,1528.6 720.9,1543.7" fill="#00ff00" stroke="#00ff00" stroke-width="0.6"/>
<polygon points="720.9,1543.7 750.3,1528.6 753.8,1512.4 724.4,1527.8" fill="#00ff00" stroke="#00ff00" stroke-width="0.6"/>
<polygon points="724.4,1527.8 753.8,1512.4 757.3,1496.2 727.9,1511.9" fill="#40ff00" stroke="#40ff00" stroke-width="0.6"/>
<polygon points="727.9,1511.9 757.3,1496.2 760.8,1480.1 731.5,1496.0" fill="#40ff00" stroke="#40ff00" stroke-width="0.6"/>
<polygon points="731.5,1496.0 760.8,1480.1 764.4,1463.9 735.0,1480.0" fill="#80ff00" stroke="#80ff00" stroke-width="0.6"/>
<polygon points="735.0,1480.0 764.4,1463.9 767.9,1447.7 738.5,1464.1" fill="#80ff00" stroke="#80ff00" stroke-width="0.6"/>
<polygon points="738.5,1464.1 767.9,1447.7 771.4,1431.4 742.0,1448.1" fill="#aaff00" stroke="#aaff00" stroke-width="0.6"/>
<polygon points="742.0,1448.1 771.4,1431.4 774.9,1415.2 745.6,1432.1" fill="#aaff00" stroke="#aaff00" stroke-width="0.6"/>
<polygon points="745.6,1432.1 774.9,1415.2 778.5,1399.0 749.1,1416.2" fill="#ffff00" stroke="#ffff00" stroke-width="0.6"/>
<polygon points="749.1,1416.2 778.5,1399.0 782.0,1382.7 752.6,1400.2" fill="#ffaa00" stroke="#ffaa00" stroke-width="0.6"/>
<polygon points="752.6,1400.2 782.0,1382.7 785.5,1366.5 756.2,1384.2" fill="#ffaa00" stroke="#ffaa00" stroke-width="0.6"/>
<polygon points="756.2,1384.2 785.5,1366.5 789.0,1350.2 759.7,1368.2" fill="#ff8000" stroke="#ff8000" stroke-width="0.6"/>
<polygon points="759.7,1368.2 789.0,1350.2 792.6,1333.9 763.2,1352.1" fill="#ff8000" stroke="#ff8000" stroke-width="0.6"/>
<polygon points="763.2,1352.1 792.6,1333.9 796.1,1317.7 766.7,1336.1" fill="#ff4000" stroke="#ff4000" stroke-width="0.6"/>
<polygon points="766.7,1336.1 796.1,1317.7 799.6,1301.4 770.3,1320.1" fill="#ff4000" stroke="#ff4000" stroke-width="0.6"/>
<polygon points="770.3,1320.1 799.6,1301.4 803.1,1285.1 773.8,1304.0" fill="#ff0000" stroke="#ff0000" stroke-width="0.6"/>
<polygon points="732.6,1609.2 762.0,1595.3 765.5,1578.9 736.2,1593.1" fill="#00ff80" stroke="#00ff80" stroke-width="0.6"/>
<polygon points="736.2,1593.1 765.5,1578.9 769.1,1562.6 739.7,1577.0" fill="#00ff40" stroke="#00ff40" stroke-width="0.6"/>
<polygon points="739.7,1577.0 769.1,1562.6 772.6,1546.2 743.2,1560.9" fill="#00ff40" stroke="#00ff40" stroke-width="0.6"/>
<polygon points="743.2,1560.9 772.6,1546.2 776.1,1529.8 746.7,1544.7" fill="#00ff00" stroke="#00ff00" stroke-width="0.6"/>
<polygon points="746.7,1544.7 776.1,1529.8 779.6,1513.4 750.3,1528.6" fill="#00ff00" stroke="#00ff00" stroke-width="0.6"/>
<polygon points="750.3,1528.6 779.6,1513.4 783.1,1496.9 753.8,1512.4" fill="#40ff00" stroke="#40ff00" stroke-width="0.6"/>
<polygon points="753.8,1512.4 783.1,1496.9 786.7,1480.5 757.3,1496.2" fill="#80ff00" stroke="#80ff00" stroke-width="0.6"/>
<polygon points="757.3,1496.2 786.7,1480.5 790.2,1464.1 760.8,1480.1" fill="#80ff00" stroke="#80ff00" stroke-width="0.6"/>
<polygon points="760.8,1480.1 790.2,1464.1 793.7,1447.6 764.4,1463.9" fill="#aaff00" stroke="#aaff00" stroke-width="0.6"/>
<polygon points="764.4,1463.9 793.7,1447.6 797.2,1431.2 767.9,1447.7" fill="#aaff00" stroke="#aaff00" stroke-width="0.6"/>
<polygon points="767.9,1447.7 797.2,1431.2 800.8,1414.7 771.4,1431.4" fill="#ffff00" stroke="#ffff00" stroke-width="0.6"/>
<polygon points="771.4,1431.4 800.8,1414.7 804.3,1398.2 774.9,1415.2" fill="#ffff00" stroke="#ffff00" stroke-width="0.6"/>
<polygon points="774.9,1415.2 804.3,1398.2 807.8,1381.7 778.5,1399.0" fill="#ffaa00" stroke="#ffaa00" stroke-width="0.6"/>
<polygon points="778.5,1399.0 807.8,1381.7 811.4,1365.2 782.0,1382.7" fill="#ffaa00" stroke="#ffaa00" stroke-width="0.6"/>
<polygon points="782.0,1382.7 811.4,1365.2 814.9,1348.7 785.5,1366.5" fill="#ff8000" stroke="#ff8000" stroke-width="0.6"/>
<polygon points="785.5,1366.5 814.9,1348.7 818.4,1332.2 789.0,1350.2" fill="#ff8000" stroke="#ff8000" stroke-width="0.6"/>
<polygon points="789.0,1350.2 818.4,1332.2 821.9,1315.7 792.6,1333.9" fill="#ff4000" stroke="#ff4000" stroke-width="0.6"/>
<polygon points="792.6,1333.9 821.9,1315.7 825.5,1299.1 796.1,1317.7" fill="#ff4000" stroke="#ff4000" stroke-width="0.6"/>
<polygon points="796.1,1317.7 825.5,1299.1 829.0,1282.6 799.6,1301.4" fill="#ff0000" stroke="#ff0000" stroke-width="0.6"/>
<polygon points="799.6,1301.4 829.0,1282.6 832.5,1266.0 803.1,1285.1" fill="#ff0000" stroke="#ff0000" stroke-width="0.6"/>
</g>
<path d="M176.9 1851.4L206.2 1838.8M179.2 1843.9L208.6 1831.1M181.6 1836.4L211.0 1823.5M184.0 1828.9L213.3 1815.8M186.3 1821.4L215.7 1808.1M188.7 1813.9L218.1 1800.4M191.0 1806.3L220.4 1792.7M193.4 1798.8L222.8 1785.0M195.8 1791.3L225.1 1777.3M198.1 1783.7L227.5 1769.6M200.5 1776.2L229.9 1761.9M202.9 1768.6L232.2 1754.2M205.2 1761.1L234.6 1746.4M207.6 1753.5L237.0 1738.7M209.9 1746.0L239.3 1731.0M212.3 1738.4L241.7 1723.2M214.7 1730.8L244.0 1715.5M217.0 1723.3L246.4 1707.8M219.4 1715.7L248.8 1700.0M221.8 1708.1L251.1 1692.3M224.1 1700.5L253.5 1684.5M226.5 1692.9L255.9 1676.7M228.9 1685.3L258.2 1669.0M231.2 1677.7L260.6 1661.2M233.6 1670.1L262.9 1653.4M235.9 1662.5L265.3 1645.6M238.3 1654.9L267.7 1637.8M240.7 1647.3L270.0 1630.0M243.0 1639.6L272.4 1622.3M206.3 1838.5L235.7 1825.9M208.8 1830.6L238.1 1817.7M211.2 1822.7L240.6 1809.6M213.7 1814.7L243.0 1801.5M216.1 1806.8L245.5 1793.4M218.5 1798.8L247.9 1785.2M221.0 1790.8L250.4 1777.1M223.4 1782.9L252.8 1769.0M225.9 1774.9L255.2 1760.8M228.3 1766.9L257.7 1752.7M230.8 1759.0L260.1 1744.5M233.2 1751.0L262.6 1736.3M235.6 1743.0L265.0 1728.2M238.1 1735.0L267.5 1720.0M240.5 1727.0L269.9 1711.8M243.0 1719.0L272.3 1703.6M245.4 1711.0L274.8 1695.5M247.9 1702.9L277.2 1687.3M250.3 1694.9L279.7 1679.1M252.8 1686.9L282.1 1670.9M255.2 1678.9L284.6 1662.7M257.6 1670.8L287.0 1654.4M260.1 1662.8L289.4 1646.2M262.5 1654.8L291.9 1638.0M265.0 1646.7L294.3 1629.8M267.4 1638.6L296.8 1621.5M269.9 1630.6L299.2 1613.3M272.3 1622.5L301.7 1605.1M235.8 1825.6L265.2 1812.8M238.3 1817.2L267.7 1804.2M240.8 1808.8L270.2 1795.6M243.4 1800.3L272.7 1787.0M245.9 1791.9L275.3 1778.4M248.4 1783.5L277.8 1769.8M251.0 1775.1L280.3 1761.2M253.5 1766.6L282.9 1752.6M256.0 1758.2L285.4 1744.0M258.6 1749.7L287.9 1735.3M261.1 1741.3L290.5 1726.7M263.6 1732.8L293.0 1718.1M266.1 1724.4L295.5 1709.4M268.7 1715.9L298.0 1700.8M271.2 1707.4L300.6 1692.1M273.7 1699.0L303.1 1683.5M276.3 1690.5L305.6 1674.8M278.8 1682.0L308.2 1666.1M281.3 1673.5L310.7 1657.4M283.9 1665.0L313.2 1648.8M286.4 1656.5L315.8 1640.1M288.9 1648.0L318.3 1631.4M291.5 1639.5L320.8 1622.7M294.0 1631.0L323.3 1614.0M296.5 1622.4L325.9 1605.3M299.0 1613.9L328.4 1596.6M301.6 1605.4L330.9 1587.8M265.2 1812.8L294.5 1799.9M267.7 1804.2L297.1 1791.2M270.2 1795.6L299.6 1782.4M272.7 1787.0L302.1 1773.6M275.3 1778.4L304.6 1764.8M277.8 1769.8L307.2 1756.1M280.3 1761.2L309.7 1747.3M282.9 1752.6L312.2 1738.5M285.4 1744.0L314.8 1729.7M287.9 1735.3L317.3 1720.8M290.5 1726.7L319.8 1712.0M293.0 1718.1L322.4 1703.2M295.5 1709.4L324.9 1694.4M298.0 1700.8L327.4 1685.5M300.6 1692.1L329.9 1676.7M303.1 1683.5L332.5 1667.9M305.6 1674.8L335.0 1659.0M308.2 1666.1L337.5 1650.2M310.7 1657.4L340.1 1641.3M313.2 1648.8L342.6 1632.4M315.8 1640.1L345.1 1623.6M318.3 1631.4L347.6 1614.7M320.8 1622.7L350.2 1605.8M323.3 1614.0L352.7 1596.9M325.9 1605.3L355.2 1588.0M328.4 1596.6L357.8 1579.1M330.9 1587.8L360.3 1570.2M294.5 1799.9L323.9 1787.0M297.1 1791.2L326.4 1778.1M299.6 1782.4L329.0 1769.1M302.1 1773.6L331.5 1760.2M304.6 1764.8L334.0 1751.2M307.2 1756.1L336.5 1742.2M309.7 1747.3L339.1 1733.2M312.2 1738.5L341.6 1724.3M314.8 1729.7L344.1 1715.3M317.3 1720.8L346.7 1706.3M319.8 1712.0L349.2 1697.3M322.4 1703.2L351.7 1688.3M324.9 1694.4L354.2 1679.3M327.4 1685.5L356.8 1670.2M329.9 1676.7L359.3 1661.2M332.5 1667.9L361.8 1652.2M335.0 1659.0L364.4 1643.2M337.5 1650.2L366.9 1634.1M340.1 1641.3L369.4 1625.1M342.6 1632.4L371.9 1616.0M345.1 1623.6L374.5 1607.0M347.6 1614.7L377.0 1597.9M350.2 1605.8L379.5 1588.9M352.7 1596.9L382.1 1579.8M355.2 1588.0L384.6 1570.7M357.8 1579.1L387.1 1561.6M360.3 1570.2L389.6 1552.6M324.0 1786.7L353.4 1773.7M326.6 1777.4L356.0 1764.2M329.2 1768.1L358.6 1754.7M331.9 1758.8L361.2 1745.2M334.5 1749.5L363.9 1735.8M337.1 1740.2L366.5 1726.3M339.7 1730.9L369.1 1716.8M342.4 1721.6L371.7 1707.2M345.0 1712.3L374.3 1697.7M347.6 1702.9L377.0 1688.2M350.2 1693.6L379.6 1678.7M352.8 1684.3L382.2 1669.2M355.5 1674.9L384.8 1659.6M358.1 1665.6L387.5 1650.1M360.7 1656.2L390.1 1640.5M363.3 1646.8L392.7 1631.0M366.0 1637.5L395.3 1621.4M368.6 1628.1L397.9 1611.9M371.2 1618.7L400.6 1602.3M373.8 1609.3L403.2 1592.7M376.4 1599.9L405.8 1583.1M379.1 1590.5L408.4 1573.5M381.7 1581.1L411.0 1564.0M384.3 1571.7L413.7 1554.4M386.9 1562.3L416.3 1544.8M389.6 1552.9L418.9 1535.1M353.5 1773.3L382.8 1760.2M356.2 1763.5L385.6 1750.2M358.9 1753.6L388.3 1740.1M361.6 1743.8L391.0 1730.1M364.4 1733.9L393.7 1720.0M367.1 1724.1L396.5 1710.0M369.8 1714.2L399.2 1699.9M372.5 1704.3L401.9 1689.8M375.3 1694.4L404.6 1679.8M378.0 1684.6L407.3 1669.7M380.7 1674.7L410.1 1659.6M383.4 1664.8L412.8 1649.5M386.1 1654.9L415.5 1639.4M388.9 1644.9L418.2 1629.3M391.6 1635.0L420.9 1619.2M394.3 1625.1L423.7 1609.0M397.0 1615.2L426.4 1598.9M399.8 1605.2L429.1 1588.8M402.5 1595.3L431.8 1578.6M405.2 1585.3L434.6 1568.5M407.9 1575.4L437.3 1558.4M410.6 1565.4L440.0 1548.2M413.4 1555.5L442.7 1538.0M416.1 1545.5L445.4 1527.9M418.8 1535.5L448.2 1517.7M382.8 1760.2L412.2 1747.0M385.6 1750.2L414.9 1736.8M388.3 1740.1L417.7 1726.6M391.0 1730.1L420.4 1716.3M393.7 1720.0L423.1 1706.1M396.5 1710.0L425.8 1695.8M399.2 1699.9L428.5 1685.6M401.9 1689.8L431.3 1675.3M404.6 1679.8L434.0 1665.0M407.3 1669.7L436.7 1654.7M410.1 1659.6L439.4 1644.4M412.8 1649.5L442.1 1634.1M415.5 1639.4L444.9 1623.8M418.2 1629.3L447.6 1613.5M420.9 1619.2L450.3 1603.2M423.7 1609.0L453.0 1592.9M426.4 1598.9L455.8 1582.6M429.1 1588.8L458.5 1572.3M431.8 1578.6L461.2 1561.9M434.6 1568.5L463.9 1551.6M437.3 1558.4L466.6 1541.2M440.0 1548.2L469.4 1530.9M442.7 1538.0L472.1 1520.5M445.4 1527.9L474.8 1510.2M448.2 1517.7L477.5 1499.8M412.2 1747.0L441.6 1733.8M414.9 1736.8L444.3 1723.3M417.7 1726.6L447.0 1712.9M420.4 1716.3L449.8 1702.5M423.1 1706.1L452.5 1692.0M425.8 1695.8L455.2 1681.6M428.5 1685.6L457.9 1671.1M431.3 1675.3L460.6 1660.6M434.0 1665.0L463.4 1650.2M436.7 1654.7L466.1 1639.7M439.4 1644.4L468.8 1629.2M442.1 1634.1L471.5 1618.7M444.9 1623.8L474.2 1608.2M447.6 1613.5L477.0 1597.7M450.3 1603.2L479.7 1587.2M453.0 1592.9L482.4 1576.7M455.8 1582.6L485.1 1566.2M458.5 1572.3L487.8 1555.7M461.2 1561.9L490.6 1545.1M463.9 1551.6L493.3 1534.6M466.6 1541.2L496.0 1524.0M469.4 1530.9L498.7 1513.5M472.1 1520.5L501.4 1502.9M474.8 1510.2L504.2 1492.4M477.5 1499.8L506.9 1481.8M441.7 1733.4L471.1 1720.0M444.5 1722.5L473.9 1709.0M447.4 1711.7L476.7 1697.9M450.2 1700.8L479.6 1686.8M453.0 1689.9L482.4 1675.8M455.8 1679.1L485.2 1664.7M458.7 1668.2L488.0 1653.6M461.5 1657.3L490.9 1642.5M464.3 1646.4L493.7 1631.4M467.2 1635.5L496.5 1620.3M470.0 1624.6L499.4 1609.2M472.8 1613.7L502.2 1598.1M475.6 1602.8L505.0 1587.0M478.5 1591.8L507.8 1575.8M481.3 1580.9L510.7 1564.7M484.1 1570.0L513.5 1553.6M487.0 1559.0L516.3 1542.4M489.8 1548.1L519.2 1531.2M492.6 1537.1L522.0 1520.1M495.5 1526.1L524.8 1508.9M498.3 1515.2L527.6 1497.7M501.1 1504.2L530.5 1486.5M503.9 1493.2L533.3 1475.4M506.8 1482.2L536.1 1464.2M471.2 1719.6L500.6 1706.1M474.1 1708.0L503.5 1694.4M477.1 1696.5L506.5 1682.7M480.0 1685.0L509.4 1670.9M483.0 1673.5L512.4 1659.2M485.9 1661.9L515.3 1647.4M488.9 1650.4L518.2 1635.7M491.8 1638.8L521.2 1623.9M494.8 1627.3L524.1 1612.1M497.7 1615.7L527.1 1600.3M500.7 1604.1L530.0 1588.5M503.6 1592.5L533.0 1576.7M506.5 1580.9L535.9 1564.9M509.5 1569.3L538.9 1553.1M512.4 1557.7L541.8 1541.3M515.4 1546.1L544.7 1529.5M518.3 1534.5L547.7 1517.7M521.3 1522.9L550.6 1505.8M524.2 1511.2L553.6 1494.0M527.2 1499.6L556.5 1482.1M530.1 1487.9L559.5 1470.2M533.1 1476.3L562.4 1458.4M536.0 1464.6L565.4 1446.5M500.6 1706.1L529.9 1692.6M503.5 1694.4L532.9 1680.7M506.5 1682.7L535.8 1668.7M509.4 1670.9L538.8 1656.8M512.4 1659.2L541.7 1644.8M515.3 1647.4L544.7 1632.8M518.2 1635.7L547.6 1620.9M521.2 1623.9L550.6 1608.9M524.1 1612.1L553.5 1596.9M527.1 1600.3L556.4 1584.9M530.0 1588.5L559.4 1572.9M533.0 1576.7L562.3 1560.9M535.9 1564.9L565.3 1548.9M538.9 1553.1L568.2 1536.8M541.8 1541.3L571.2 1524.8M544.7 1529.5L574.1 1512.8M547.7 1517.7L577.1 1500.7M550.6 1505.8L580.0 1488.7M553.6 1494.0L582.9 1476.6M556.5 1482.1L585.9 1464.5M559.5 1470.2L588.8 1452.5M562.4 1458.4L591.8 1440.4M565.4 1446.5L594.7 1428.3M529.9 1692.6L559.3 1679.0M532.9 1680.7L562.3 1666.9M535.8 1668.7L565.2 1654.7M538.8 1656.8L568.1 1642.5M541.7 1644.8L571.1 1630.4M544.7 1632.8L574.0 1618.2M547.6 1620.9L577.0 1606.0M550.6 1608.9L579.9 1593.8M553.5 1596.9L582.9 1581.6M556.4 1584.9L585.8 1569.4M559.4 1572.9L588.8 1557.2M562.3 1560.9L591.7 1545.0M565.3 1548.9L594.6 1532.7M568.2 1536.8L597.6 1520.5M571.2 1524.8L600.5 1508.2M574.1 1512.8L603.5 1496.0M577.1 1500.7L606.4 1483.7M580.0 1488.7L609.4 1471.5M582.9 1476.6L612.3 1459.2M585.9 1464.5L615.2 1446.9M588.8 1452.5L618.2 1434.6M591.8 1440.4L621.1 1422.3M594.7 1428.3L624.1 1410.0M559.4 1678.5L588.8 1664.8M562.5 1665.8L591.9 1651.9M565.6 1653.1L595.0 1639.0M568.7 1640.4L598.0 1626.1M571.7 1627.7L601.1 1613.1M574.8 1615.0L604.2 1600.2M577.9 1602.3L607.2 1587.3M580.9 1589.6L610.3 1574.3M584.0 1576.8L613.4 1561.4M587.1 1564.1L616.5 1548.4M590.2 1551.3L619.5 1535.4M593.2 1538.6L622.6 1522.4M596.3 1525.8L625.7 1509.5M599.4 1513.0L628.7 1496.5M602.4 1500.2L631.8 1483.5M605.5 1487.5L634.9 1470.4M608.6 1474.7L637.9 1457.4M611.7 1461.9L641.0 1444.4M614.7 1449.0L644.1 1431.4M617.8 1436.2L647.2 1418.3M620.9 1423.4L650.2 1405.3M623.9 1410.5L653.3 1392.2M589.0 1664.2L618.3 1650.5M592.2 1650.7L621.5 1636.7M595.4 1637.2L624.8 1623.0M598.6 1623.7L628.0 1609.3M601.8 1610.2L631.2 1595.5M605.0 1596.7L634.4 1581.8M608.2 1583.2L637.6 1568.0M611.4 1569.6L640.8 1554.2M614.6 1556.1L644.0 1540.4M617.9 1542.5L647.2 1526.6M621.1 1528.9L650.4 1512.8M624.3 1515.4L653.6 1499.0M627.5 1501.8L656.8 1485.2M630.7 1488.2L660.1 1471.4M633.9 1474.6L663.3 1457.6M637.1 1461.0L666.5 1443.7M640.3 1447.3L669.7 1429.9M643.5 1433.7L672.9 1416.0M646.7 1420.1L676.1 1402.1M650.0 1406.4L679.3 1388.2M653.2 1392.8L682.5 1374.4M618.3 1650.5L647.7 1636.6M621.5 1636.7L650.9 1622.7M624.8 1623.0L654.1 1608.7M628.0 1609.3L657.3 1594.7M631.2 1595.5L660.5 1580.7M634.4 1581.8L663.7 1566.7M637.6 1568.0L667.0 1552.7M640.8 1554.2L670.2 1538.7M644.0 1540.4L673.4 1524.7M647.2 1526.6L676.6 1510.7M650.4 1512.8L679.8 1496.7M653.6 1499.0L683.0 1482.6M656.8 1485.2L686.2 1468.6M660.1 1471.4L689.4 1454.5M663.3 1457.6L692.6 1440.4M666.5 1443.7L695.8 1426.4M669.7 1429.9L699.0 1412.3M672.9 1416.0L702.2 1398.2M676.1 1402.1L705.5 1384.1M679.3 1388.2L708.7 1370.0M682.5 1374.4L711.9 1355.9M647.7 1636.6L677.1 1622.7M650.9 1622.7L680.3 1608.5M654.1 1608.7L683.5 1594.3M657.3 1594.7L686.7 1580.1M660.5 1580.7L689.9 1565.9M663.7 1566.7L693.1 1551.7M667.0 1552.7L696.3 1537.4M670.2 1538.7L699.5 1523.2M673.4 1524.7L702.7 1508.9M676.6 1510.7L705.9 1494.7M679.8 1496.7L709.2 1480.4M683.0 1482.6L712.4 1466.1M686.2 1468.6L715.6 1451.9M689.4 1454.5L718.8 1437.6M692.6 1440.4L722.0 1423.3M695.8 1426.4L725.2 1409.0M699.0 1412.3L728.4 1394.6M702.2 1398.2L731.6 1380.3M705.5 1384.1L734.8 1366.0M708.7 1370.0L738.0 1351.6M711.9 1355.9L741.2 1337.3M677.2 1622.0L706.6 1608.0M680.6 1607.1L710.0 1592.9M684.0 1592.3L713.3 1577.8M687.3 1577.4L716.7 1562.6M690.7 1562.5L720.0 1547.5M694.0 1547.6L723.4 1532.3M697.4 1532.7L726.8 1517.2M700.8 1517.8L730.1 1502.0M704.1 1502.8L733.5 1486.9M707.5 1487.9L736.8 1471.7M710.8 1472.9L740.2 1456.5M714.2 1458.0L743.6 1441.3M717.6 1443.0L746.9 1426.1M720.9 1428.0L750.3 1410.8M724.3 1413.0L753.6 1395.6M727.6 1398.0L757.0 1380.4M731.0 1383.0L760.4 1365.1M734.4 1368.0L763.7 1349.9M737.7 1353.0L767.1 1334.6M741.1 1338.0L770.4 1319.3M706.8 1607.2L736.2 1593.1M710.3 1591.4L739.7 1577.0M713.8 1575.5L743.2 1560.9M717.4 1559.6L746.7 1544.7M720.9 1543.7L750.3 1528.6M724.4 1527.8L753.8 1512.4M727.9 1511.9L757.3 1496.2M731.5 1496.0L760.8 1480.1M735.0 1480.0L764.4 1463.9M738.5 1464.1L767.9 1447.7M742.0 1448.1L771.4 1431.4M745.6 1432.1L774.9 1415.2M749.1 1416.2L778.5 1399.0M752.6 1400.2L782.0 1382.7M756.2 1384.2L785.5 1366.5M759.7 1368.2L789.0 1350.2M763.2 1352.1L792.6 1333.9M766.7 1336.1L796.1 1317.7M770.3 1320.1L799.6 1301.4M736.2 1593.1L765.5 1578.9M739.7 1577.0L769.1 1562.6M743.2 1560.9L772.6 1546.2M746.7 1544.7L776.1 1529.8M750.3 1528.6L779.6 1513.4M753.8 1512.4L783.1 1496.9M757.3 1496.2L786.7 1480.5M760.8 1480.1L790.2 1464.1M764.4 1463.9L793.7 1447.6M767.9 1447.7L797.2 1431.2M771.4 1431.4L800.8 1414.7M774.9 1415.2L804.3 1398.2M778.5 1399.0L807.8 1381.7M782.0 1382.7L811.4 1365.2M785.5 1366.5L814.9 1348.7M789.0 1350.2L818.4 1332.2M792.6 1333.9L821.9 1315.7M796.1 1317.7L825.5 1299.1M799.6 1301.4L829.0 1282.6" stroke="#000" stroke-width="1.5" fill="none"/>
<path d="M174.5 1858.9L176.3 1853.3L178.0 1847.7L179.8 1842.0L181.6 1836.4L183.4 1830.8L185.1 1825.1L186.9 1819.5L188.7 1813.9L190.5 1808.2L192.2 1802.6L194.0 1796.9L195.8 1791.3L197.5 1785.6L199.3 1780.0L201.1 1774.3L202.9 1768.6L204.6 1763.0L206.4 1757.3L208.2 1751.6L209.9 1746.0L211.7 1740.3L213.5 1734.6L215.3 1728.9L217.0 1723.3L218.8 1717.6L220.6 1711.9L222.4 1706.2L224.1 1700.5L225.9 1694.8L227.7 1689.1L229.4 1683.4L231.2 1677.7L233.0 1672.0L234.8 1666.3L236.5 1660.6L238.3 1654.9L240.1 1649.2L241.9 1643.4L243.6 1637.7L245.4 1632.0M203.9 1846.5L205.6 1840.7L207.4 1835.0L209.2 1829.2L211.0 1823.5L212.7 1817.7L214.5 1811.9L216.3 1806.2L218.1 1800.4L219.8 1794.6L221.6 1788.9L223.4 1783.1L225.1 1777.3L226.9 1771.5L228.7 1765.7L230.5 1760.0L232.2 1754.2L234.0 1748.4L235.8 1742.6L237.5 1736.8L239.3 1731.0L241.1 1725.2L242.9 1719.4L244.6 1713.6L246.4 1707.8L248.2 1701.9L249.9 1696.1L251.7 1690.3L253.5 1684.5L255.3 1678.7L257.0 1672.8L258.8 1667.0L260.6 1661.2L262.4 1655.4L264.1 1649.5L265.9 1643.7L267.7 1637.8L269.4 1632.0L271.2 1626.2L273.0 1620.3L274.8 1614.5M233.2 1834.0L235.0 1828.1L236.8 1822.2L238.6 1816.3L240.3 1810.4L242.1 1804.5L243.9 1798.7L245.7 1792.8L247.4 1786.9L249.2 1781.0L251.0 1775.1L252.7 1769.2L254.5 1763.3L256.3 1757.4L258.1 1751.4L259.8 1745.5L261.6 1739.6L263.4 1733.7L265.1 1727.8L266.9 1721.8L268.7 1715.9L270.5 1710.0L272.2 1704.1L274.0 1698.1L275.8 1692.2L277.5 1686.2L279.3 1680.3L281.1 1674.4L282.9 1668.4L284.6 1662.5L286.4 1656.5L288.2 1650.5L289.9 1644.6L291.7 1638.6L293.5 1632.7L295.3 1626.7L297.0 1620.7L298.8 1614.8L300.6 1608.8L302.3 1602.8L304.1 1596.8M262.6 1821.4L264.4 1815.4L266.2 1809.4L267.9 1803.4L269.7 1797.3L271.5 1791.3L273.3 1785.3L275.0 1779.3L276.8 1773.3L278.6 1767.2L280.3 1761.2L282.1 1755.2L283.9 1749.1L285.6 1743.1L287.4 1737.1L289.2 1731.0L291.0 1725.0L292.7 1718.9L294.5 1712.9L296.3 1706.8L298.0 1700.8L299.8 1694.7L301.6 1688.7L303.4 1682.6L305.1 1676.5L306.9 1670.5L308.7 1664.4L310.4 1658.3L312.2 1652.2L314.0 1646.2L315.8 1640.1L317.5 1634.0L319.3 1627.9L321.1 1621.8L322.8 1615.7L324.6 1609.6L326.4 1603.5L328.2 1597.4L329.9 1591.3L331.7 1585.2L333.5 1579.1M292.0 1808.7L293.8 1802.6L295.5 1796.4L297.3 1790.3L299.1 1784.2L300.9 1778.0L302.6 1771.9L304.4 1765.7L306.2 1759.6L307.9 1753.4L309.7 1747.3L311.5 1741.1L313.2 1734.9L315.0 1728.8L316.8 1722.6L318.6 1716.4L320.3 1710.3L322.1 1704.1L323.9 1697.9L325.6 1691.7L327.4 1685.5L329.2 1679.4L331.0 1673.2L332.7 1667.0L334.5 1660.8L336.3 1654.6L338.0 1648.4L339.8 1642.2L341.6 1636.0L343.3 1629.8L345.1 1623.6L346.9 1617.4L348.7 1611.1L350.4 1604.9L352.2 1598.7L354.0 1592.5L355.7 1586.3L357.5 1580.0L359.3 1573.8L361.0 1567.6L362.8 1561.3M321.4 1796.0L323.1 1789.7L324.9 1783.4L326.7 1777.2L328.5 1770.9L330.2 1764.6L332.0 1758.4L333.8 1752.1L335.5 1745.8L337.3 1739.5L339.1 1733.2L340.8 1726.9L342.6 1720.7L344.4 1714.4L346.2 1708.1L347.9 1701.8L349.7 1695.5L351.5 1689.2L353.2 1682.9L355.0 1676.5L356.8 1670.2L358.5 1663.9L360.3 1657.6L362.1 1651.3L363.9 1645.0L365.6 1638.6L367.4 1632.3L369.2 1626.0L370.9 1619.7L372.7 1613.3L374.5 1607.0L376.2 1600.6L378.0 1594.3L379.8 1588.0L381.6 1581.6L383.3 1575.3L385.1 1568.9L386.9 1562.6L388.6 1556.2L390.4 1549.8L392.2 1543.5M350.8 1783.1L352.5 1776.8L354.3 1770.4L356.1 1764.0L357.8 1757.6L359.6 1751.2L361.4 1744.8L363.1 1738.4L364.9 1732.0L366.7 1725.5L368.4 1719.1L370.2 1712.7L372.0 1706.3L373.8 1699.9L375.5 1693.5L377.3 1687.0L379.1 1680.6L380.8 1674.2L382.6 1667.7L384.4 1661.3L386.1 1654.9L387.9 1648.4L389.7 1642.0L391.4 1635.5L393.2 1629.1L395.0 1622.6L396.8 1616.2L398.5 1609.7L400.3 1603.2L402.1 1596.8L403.8 1590.3L405.6 1583.9L407.4 1577.4L409.1 1570.9L410.9 1564.4L412.7 1558.0L414.5 1551.5L416.2 1545.0L418.0 1538.5L419.8 1532.0L421.5 1525.5M380.1 1770.2L381.9 1763.7L383.7 1757.2L385.4 1750.7L387.2 1744.2L389.0 1737.6L390.7 1731.1L392.5 1724.6L394.3 1718.0L396.0 1711.5L397.8 1704.9L399.6 1698.4L401.4 1691.9L403.1 1685.3L404.9 1678.8L406.7 1672.2L408.4 1665.6L410.2 1659.1L412.0 1652.5L413.7 1646.0L415.5 1639.4L417.3 1632.8L419.0 1626.2L420.8 1619.7L422.6 1613.1L424.4 1606.5L426.1 1599.9L427.9 1593.3L429.7 1586.8L431.4 1580.2L433.2 1573.6L435.0 1567.0L436.7 1560.4L438.5 1553.8L440.3 1547.2L442.0 1540.6L443.8 1534.0L445.6 1527.4L447.3 1520.7L449.1 1514.1L450.9 1507.5M409.5 1757.3L411.3 1750.6L413.0 1744.0L414.8 1737.3L416.6 1730.7L418.3 1724.0L420.1 1717.3L421.9 1710.7L423.6 1704.0L425.4 1697.4L427.2 1690.7L429.0 1684.0L430.7 1677.3L432.5 1670.7L434.3 1664.0L436.0 1657.3L437.8 1650.6L439.6 1643.9L441.3 1637.2L443.1 1630.5L444.9 1623.8L446.6 1617.2L448.4 1610.5L450.2 1603.7L451.9 1597.0L453.7 1590.3L455.5 1583.6L457.2 1576.9L459.0 1570.2L460.8 1563.5L462.6 1556.8L464.3 1550.0L466.1 1543.3L467.9 1536.6L469.6 1529.8L471.4 1523.1L473.2 1516.4L474.9 1509.6L476.7 1502.9L478.5 1496.1L480.2 1489.4M438.9 1744.2L440.6 1737.4L442.4 1730.6L444.2 1723.9L445.9 1717.1L447.7 1710.3L449.5 1703.5L451.3 1696.7L453.0 1689.9L454.8 1683.1L456.6 1676.3L458.3 1669.5L460.1 1662.7L461.9 1655.9L463.6 1649.1L465.4 1642.3L467.2 1635.5L468.9 1628.7L470.7 1621.9L472.5 1615.1L474.2 1608.2L476.0 1601.4L477.8 1594.6L479.5 1587.7L481.3 1580.9L483.1 1574.1L484.8 1567.2L486.6 1560.4L488.4 1553.5L490.1 1546.7L491.9 1539.9L493.7 1533.0L495.5 1526.1L497.2 1519.3L499.0 1512.4L500.8 1505.6L502.5 1498.7L504.3 1491.8L506.1 1485.0L507.8 1478.1L509.6 1471.2M468.2 1731.1L470.0 1724.2L471.8 1717.3L473.6 1710.3L475.3 1703.4L477.1 1696.5L478.9 1689.6L480.6 1682.7L482.4 1675.8L484.2 1668.8L485.9 1661.9L487.7 1655.0L489.5 1648.1L491.2 1641.1L493.0 1634.2L494.8 1627.3L496.5 1620.3L498.3 1613.4L500.1 1606.4L501.8 1599.5L503.6 1592.5L505.4 1585.6L507.1 1578.6L508.9 1571.7L510.7 1564.7L512.4 1557.7L514.2 1550.8L516.0 1543.8L517.7 1536.8L519.5 1529.9L521.3 1522.9L523.0 1515.9L524.8 1508.9L526.6 1501.9L528.3 1494.9L530.1 1487.9L531.9 1481.0L533.6 1474.0L535.4 1467.0L537.2 1460.0L539.0 1453.0M497.6 1717.8L499.4 1710.8L501.2 1703.8L502.9 1696.7L504.7 1689.7L506.5 1682.7L508.2 1675.6L510.0 1668.6L511.8 1661.5L513.5 1654.5L515.3 1647.4L517.1 1640.4L518.8 1633.3L520.6 1626.2L522.4 1619.2L524.1 1612.1L525.9 1605.0L527.7 1598.0L529.4 1590.9L531.2 1583.8L533.0 1576.7L534.7 1569.7L536.5 1562.6L538.3 1555.5L540.0 1548.4L541.8 1541.3L543.6 1534.2L545.3 1527.1L547.1 1520.0L548.9 1512.9L550.6 1505.8L552.4 1498.7L554.2 1491.6L555.9 1484.5L557.7 1477.4L559.5 1470.2L561.2 1463.1L563.0 1456.0L564.8 1448.9L566.5 1441.7L568.3 1434.6M527.0 1704.5L528.8 1697.4L530.5 1690.2L532.3 1683.1L534.1 1675.9L535.8 1668.7L537.6 1661.6L539.4 1654.4L541.1 1647.2L542.9 1640.0L544.7 1632.8L546.4 1625.7L548.2 1618.5L550.0 1611.3L551.7 1604.1L553.5 1596.9L555.3 1589.7L557.0 1582.5L558.8 1575.3L560.6 1568.1L562.3 1560.9L564.1 1553.7L565.9 1546.5L567.6 1539.3L569.4 1532.0L571.2 1524.8L572.9 1517.6L574.7 1510.4L576.5 1503.1L578.2 1495.9L580.0 1488.7L581.8 1481.4L583.5 1474.2L585.3 1467.0L587.1 1459.7L588.8 1452.5L590.6 1445.2L592.4 1438.0L594.1 1430.7L595.9 1423.5L597.7 1416.2M556.4 1691.2L558.1 1683.9L559.9 1676.6L561.7 1669.3L563.4 1662.0L565.2 1654.7L567.0 1647.4L568.7 1640.1L570.5 1632.8L572.3 1625.5L574.0 1618.2L575.8 1610.9L577.6 1603.6L579.3 1596.2L581.1 1588.9L582.9 1581.6L584.6 1574.3L586.4 1566.9L588.2 1559.6L589.9 1552.3L591.7 1545.0L593.5 1537.6L595.2 1530.3L597.0 1522.9L598.8 1515.6L600.5 1508.2L602.3 1500.9L604.1 1493.5L605.8 1486.2L607.6 1478.8L609.4 1471.5L611.1 1464.1L612.9 1456.7L614.7 1449.4L616.4 1442.0L618.2 1434.6L620.0 1427.2L621.7 1419.9L623.5 1412.5L625.2 1405.1L627.0 1397.7M585.8 1677.7L587.5 1670.3L589.3 1662.9L591.0 1655.5L592.8 1648.0L594.6 1640.6L596.3 1633.2L598.1 1625.8L599.9 1618.3L601.6 1610.9L603.4 1603.4L605.2 1596.0L606.9 1588.6L608.7 1581.1L610.5 1573.7L612.2 1566.2L614.0 1558.8L615.8 1551.3L617.5 1543.9L619.3 1536.4L621.1 1528.9L622.8 1521.5L624.6 1514.0L626.4 1506.5L628.1 1499.1L629.9 1491.6L631.7 1484.1L633.4 1476.6L635.2 1469.1L636.9 1461.6L638.7 1454.2L640.5 1446.7L642.2 1439.2L644.0 1431.7L645.8 1424.2L647.5 1416.7L649.3 1409.2L651.1 1401.7L652.8 1394.2L654.6 1386.6L656.4 1379.1M615.1 1664.2L616.9 1656.6L618.7 1649.1L620.4 1641.5L622.2 1634.0L624.0 1626.4L625.7 1618.9L627.5 1611.3L629.2 1603.8L631.0 1596.2L632.8 1588.6L634.5 1581.1L636.3 1573.5L638.1 1565.9L639.8 1558.3L641.6 1550.8L643.4 1543.2L645.1 1535.6L646.9 1528.0L648.7 1520.4L650.4 1512.8L652.2 1505.2L654.0 1497.6L655.7 1490.0L657.5 1482.4L659.2 1474.8L661.0 1467.2L662.8 1459.6L664.5 1452.0L666.3 1444.4L668.1 1436.8L669.8 1429.2L671.6 1421.5L673.4 1413.9L675.1 1406.3L676.9 1398.7L678.7 1391.0L680.4 1383.4L682.2 1375.8L684.0 1368.1L685.7 1360.5M644.5 1650.6L646.3 1642.9L648.0 1635.2L649.8 1627.5L651.6 1619.9L653.3 1612.2L655.1 1604.5L656.9 1596.8L658.6 1589.1L660.4 1581.4L662.1 1573.7L663.9 1566.0L665.7 1558.3L667.4 1550.6L669.2 1542.9L671.0 1535.2L672.7 1527.5L674.5 1519.8L676.3 1512.1L678.0 1504.4L679.8 1496.7L681.6 1488.9L683.3 1481.2L685.1 1473.5L686.8 1465.8L688.6 1458.0L690.4 1450.3L692.1 1442.6L693.9 1434.8L695.7 1427.1L697.4 1419.3L699.2 1411.6L701.0 1403.8L702.7 1396.1L704.5 1388.3L706.3 1380.6L708.0 1372.8L709.8 1365.0L711.6 1357.3L713.3 1349.5L715.1 1341.7M673.9 1636.9L675.6 1629.1L677.4 1621.3L679.2 1613.5L680.9 1605.7L682.7 1597.8L684.5 1590.0L686.2 1582.2L688.0 1574.4L689.8 1566.6L691.5 1558.8L693.3 1550.9L695.0 1543.1L696.8 1535.3L698.6 1527.5L700.3 1519.6L702.1 1511.8L703.9 1503.9L705.6 1496.1L707.4 1488.3L709.2 1480.4L710.9 1472.6L712.7 1464.7L714.4 1456.9L716.2 1449.0L718.0 1441.1L719.7 1433.3L721.5 1425.4L723.3 1417.5L725.0 1409.7L726.8 1401.8L728.6 1393.9L730.3 1386.0L732.1 1378.2L733.9 1370.3L735.6 1362.4L737.4 1354.5L739.1 1346.6L740.9 1338.7L742.7 1330.8L744.4 1322.9M703.3 1623.1L705.0 1615.2L706.8 1607.2L708.5 1599.3L710.3 1591.4L712.1 1583.4L713.8 1575.5L715.6 1567.5L717.4 1559.6L719.1 1551.7L720.9 1543.7L722.6 1535.8L724.4 1527.8L726.2 1519.8L727.9 1511.9L729.7 1503.9L731.5 1496.0L733.2 1488.0L735.0 1480.0L736.8 1472.0L738.5 1464.1L740.3 1456.1L742.0 1448.1L743.8 1440.1L745.6 1432.1L747.3 1424.2L749.1 1416.2L750.9 1408.2L752.6 1400.2L754.4 1392.2L756.2 1384.2L757.9 1376.2L759.7 1368.2L761.4 1360.2L763.2 1352.1L765.0 1344.1L766.7 1336.1L768.5 1328.1L770.3 1320.1L772.0 1312.1L773.8 1304.0M732.6 1609.2L734.4 1601.2L736.2 1593.1L737.9 1585.1L739.7 1577.0L741.4 1568.9L743.2 1560.9L745.0 1552.8L746.7 1544.7L748.5 1536.7L750.3 1528.6L752.0 1520.5L753.8 1512.4L755.5 1504.3L757.3 1496.2L759.1 1488.2L760.8 1480.1L762.6 1472.0L764.4 1463.9L766.1 1455.8L767.9 1447.7L769.6 1439.6L771.4 1431.4L773.2 1423.3L774.9 1415.2L776.7 1407.1L778.5 1399.0L780.2 1390.9L782.0 1382.7L783.8 1374.6L785.5 1366.5L787.3 1358.4L789.0 1350.2L790.8 1342.1L792.6 1333.9L794.3 1325.8L796.1 1317.7L797.9 1309.5L799.6 1301.4L801.4 1293.2L803.1 1285.1M762.0 1595.3L763.8 1587.1L765.5 1578.9L767.3 1570.7L769.1 1562.6L770.8 1554.4L772.6 1546.2L774.3 1538.0L776.1 1529.8L777.9 1521.6L779.6 1513.4L781.4 1505.2L783.1 1496.9L784.9 1488.7L786.7 1480.5L788.4 1472.3L790.2 1464.1L792.0 1455.9L793.7 1447.6L795.5 1439.4L797.2 1431.2L799.0 1422.9L800.8 1414.7L802.5 1406.5L804.3 1398.2L806.1 1390.0L807.8 1381.7L809.6 1373.5L811.4 1365.2L813.1 1357.0L814.9 1348.7L816.6 1340.5L818.4 1332.2L820.2 1323.9L821.9 1315.7L823.7 1307.4L825.5 1299.1L827.2 1290.8L829.0 1282.6L830.7 1274.3L832.5 1266.0" stroke="#000" stroke-width="2.1" fill="none" stroke-linejoin="round"/>
<path d="M174.5 1858.9L189.2 1852.7L203.9 1846.5L218.6 1840.2L233.2 1834.0L247.9 1827.7L262.6 1821.4L277.3 1815.1L292.0 1808.7L306.7 1802.4L321.4 1796.0L336.1 1789.6L350.8 1783.1L365.4 1776.7L380.1 1770.2L394.8 1763.8L409.5 1757.3L424.2 1750.7L438.9 1744.2L453.6 1737.6L468.2 1731.1L482.9 1724.5L497.6 1717.8L512.3 1711.2L527.0 1704.5L541.7 1697.9L556.4 1691.2L571.1 1684.4L585.8 1677.7L600.4 1670.9L615.1 1664.2L629.8 1657.4L644.5 1650.6L659.2 1643.7L673.9 1636.9L688.6 1630.0L703.3 1623.1L717.9 1616.2L732.6 1609.2L747.3 1602.3L762.0 1595.3M245.4 1632.0L260.1 1623.2L274.8 1614.5L289.4 1605.6L304.1 1596.8L318.8 1588.0L333.5 1579.1L348.1 1570.2L362.8 1561.3L377.5 1552.4L392.2 1543.5L406.9 1534.5L421.5 1525.5L436.2 1516.5L450.9 1507.5L465.6 1498.5L480.2 1489.4L494.9 1480.3L509.6 1471.2L524.3 1462.1L539.0 1453.0L553.6 1443.8L568.3 1434.6L583.0 1425.4L597.7 1416.2L612.3 1407.0L627.0 1397.7L641.7 1388.4L656.4 1379.1L671.0 1369.8L685.7 1360.5L700.4 1351.1L715.1 1341.7L729.8 1332.3L744.4 1322.9L759.1 1313.5L773.8 1304.0L788.5 1294.5L803.1 1285.1L817.8 1275.5L832.5 1266.0" stroke="#000" stroke-width="2.1" fill="none" stroke-linejoin="round"/>
</g>
</svg>
</body></html>
